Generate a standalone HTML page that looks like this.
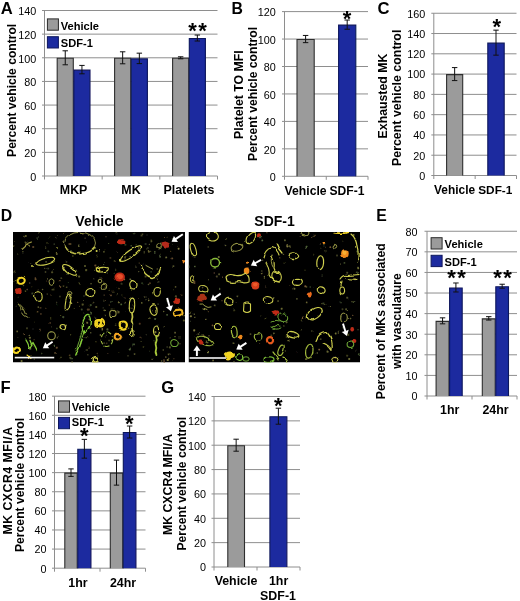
<!DOCTYPE html>
<html lang="en"><head><meta charset="utf-8"><title>Figure</title>
<style>html,body{margin:0;padding:0;background:#fff}svg{display:block}text{font-family:'Liberation Sans', Arial, Helvetica, sans-serif}</style>
</head><body>
<svg width="520" height="601" viewBox="0 0 520 601">
<defs><filter id="bl" x="-5%" y="-5%" width="110%" height="110%"><feTurbulence type="fractalNoise" baseFrequency="0.11" numOctaves="2" seed="7" result="n"/><feDisplacementMap in="SourceGraphic" in2="n" scale="3.2" xChannelSelector="R" yChannelSelector="G" result="d"/><feGaussianBlur in="d" stdDeviation="0.5"/></filter><filter id="bl2" x="-5%" y="-5%" width="110%" height="110%"><feGaussianBlur stdDeviation="0.3"/></filter><filter id="soft" filterUnits="userSpaceOnUse" x="0" y="0" width="520" height="601"><feGaussianBlur stdDeviation="0.4"/></filter><clipPath id="c1"><rect x="13" y="232" width="172" height="130.5"/></clipPath><clipPath id="c2"><rect x="188.5" y="232" width="171.5" height="130.5"/></clipPath></defs>
<rect width="520" height="601" fill="#fff"/>
<g filter="url(#soft)">
<text x="0.8" y="13.8" font-size="16.6" font-weight="bold" text-anchor="start" fill="#000">A</text>
<text x="231.5" y="13.7" font-size="15.8" font-weight="bold" text-anchor="start" fill="#000">B</text>
<text x="377.6" y="14.1" font-size="16.6" font-weight="bold" text-anchor="start" fill="#000">C</text>
<text x="0.8" y="220.8" font-size="15.8" font-weight="bold" text-anchor="start" fill="#000">D</text>
<text x="376.3" y="220.8" font-size="15.8" font-weight="bold" text-anchor="start" fill="#000">E</text>
<text x="0.6" y="392.9" font-size="16.6" font-weight="bold" text-anchor="start" fill="#000">F</text>
<text x="161.2" y="392.5" font-size="16.6" font-weight="bold" text-anchor="start" fill="#000">G</text>
<g id="panelA">
<line x1="42.0" y1="176.0" x2="217.5" y2="176.0" stroke="#8e8e8e" stroke-width="1"/>
<text x="36.3" y="180.9" font-size="10.8" text-anchor="end" fill="#000">0</text>
<line x1="42.0" y1="152.36" x2="217.5" y2="152.36" stroke="#8e8e8e" stroke-width="1"/>
<text x="36.3" y="157.26" font-size="10.8" text-anchor="end" fill="#000">20</text>
<line x1="42.0" y1="128.71" x2="217.5" y2="128.71" stroke="#8e8e8e" stroke-width="1"/>
<text x="36.3" y="133.61" font-size="10.8" text-anchor="end" fill="#000">40</text>
<line x1="42.0" y1="105.07" x2="217.5" y2="105.07" stroke="#8e8e8e" stroke-width="1"/>
<text x="36.3" y="109.97" font-size="10.8" text-anchor="end" fill="#000">60</text>
<line x1="42.0" y1="81.43" x2="217.5" y2="81.43" stroke="#8e8e8e" stroke-width="1"/>
<text x="36.3" y="86.33" font-size="10.8" text-anchor="end" fill="#000">80</text>
<line x1="42.0" y1="57.79" x2="217.5" y2="57.79" stroke="#8e8e8e" stroke-width="1"/>
<text x="36.3" y="62.69" font-size="10.8" text-anchor="end" fill="#000">100</text>
<line x1="42.0" y1="34.14" x2="217.5" y2="34.14" stroke="#8e8e8e" stroke-width="1"/>
<text x="36.3" y="39.04" font-size="10.8" text-anchor="end" fill="#000">120</text>
<line x1="42.0" y1="10.5" x2="217.5" y2="10.5" stroke="#8e8e8e" stroke-width="1"/>
<text x="36.3" y="15.4" font-size="10.8" text-anchor="end" fill="#000">140</text>
<line x1="44.5" y1="10.5" x2="44.5" y2="176" stroke="#8e8e8e" stroke-width="1"/>
<line x1="44.5" y1="176" x2="44.5" y2="179.5" stroke="#8e8e8e" stroke-width="1"/>
<line x1="102.17" y1="176" x2="102.17" y2="179.5" stroke="#8e8e8e" stroke-width="1"/>
<line x1="159.83" y1="176" x2="159.83" y2="179.5" stroke="#8e8e8e" stroke-width="1"/>
<line x1="217.5" y1="176" x2="217.5" y2="179.5" stroke="#8e8e8e" stroke-width="1"/>
<rect x="57.2" y="58.29" width="16.1" height="117.71" fill="#9b9b9b"/>
<path d="M57.2,176 L57.2,58.29 L73.3,58.29 L73.3,176" fill="none" stroke="#2e2e2e" stroke-width="1.1"/>
<rect x="73.9" y="70.11" width="16.1" height="105.89" fill="#1b2b9f"/>
<path d="M73.9,176 L73.9,70.11 L90.0,70.11 L90.0,176" fill="none" stroke="#10185c" stroke-width="1.1"/>
<rect x="114.6" y="58.29" width="16.1" height="117.71" fill="#9b9b9b"/>
<path d="M114.6,176 L114.6,58.29 L130.7,58.29 L130.7,176" fill="none" stroke="#2e2e2e" stroke-width="1.1"/>
<rect x="131.3" y="58.88" width="16.1" height="117.12" fill="#1b2b9f"/>
<path d="M131.3,176 L131.3,58.88 L147.4,58.88 L147.4,176" fill="none" stroke="#10185c" stroke-width="1.1"/>
<rect x="172.6" y="58.29" width="16.1" height="117.71" fill="#9b9b9b"/>
<path d="M172.6,176 L172.6,58.29 L188.7,58.29 L188.7,176" fill="none" stroke="#2e2e2e" stroke-width="1.1"/>
<rect x="189.3" y="38.54" width="16.1" height="137.46" fill="#1b2b9f"/>
<path d="M189.3,176 L189.3,38.54 L205.4,38.54 L205.4,176" fill="none" stroke="#10185c" stroke-width="1.1"/>
<line x1="65.25" y1="50.79" x2="65.25" y2="64.79" stroke="#111" stroke-width="1"/>
<line x1="62.55" y1="50.79" x2="67.95" y2="50.79" stroke="#111" stroke-width="1"/>
<line x1="62.55" y1="64.79" x2="67.95" y2="64.79" stroke="#111" stroke-width="1"/>
<line x1="81.94999999999999" y1="65.41" x2="81.94999999999999" y2="73.81" stroke="#111" stroke-width="1"/>
<line x1="79.24999999999999" y1="65.41" x2="84.64999999999999" y2="65.41" stroke="#111" stroke-width="1"/>
<line x1="79.24999999999999" y1="73.81" x2="84.64999999999999" y2="73.81" stroke="#111" stroke-width="1"/>
<line x1="122.65" y1="51.79" x2="122.65" y2="63.79" stroke="#111" stroke-width="1"/>
<line x1="119.95" y1="51.79" x2="125.35000000000001" y2="51.79" stroke="#111" stroke-width="1"/>
<line x1="119.95" y1="63.79" x2="125.35000000000001" y2="63.79" stroke="#111" stroke-width="1"/>
<line x1="139.35" y1="53.18" x2="139.35" y2="63.58" stroke="#111" stroke-width="1"/>
<line x1="136.65" y1="53.18" x2="142.04999999999998" y2="53.18" stroke="#111" stroke-width="1"/>
<line x1="136.65" y1="63.58" x2="142.04999999999998" y2="63.58" stroke="#111" stroke-width="1"/>
<line x1="180.65" y1="56.79" x2="180.65" y2="58.79" stroke="#111" stroke-width="1"/>
<line x1="177.95000000000002" y1="56.79" x2="183.35" y2="56.79" stroke="#111" stroke-width="1"/>
<line x1="177.95000000000002" y1="58.79" x2="183.35" y2="58.79" stroke="#111" stroke-width="1"/>
<line x1="197.35" y1="35.04" x2="197.35" y2="41.04" stroke="#111" stroke-width="1"/>
<line x1="194.65" y1="35.04" x2="200.04999999999998" y2="35.04" stroke="#111" stroke-width="1"/>
<line x1="194.65" y1="41.04" x2="200.04999999999998" y2="41.04" stroke="#111" stroke-width="1"/>
<rect x="47.4" y="18.9" width="11" height="11.3" fill="#9b9b9b" stroke="#2a2a2a" stroke-width="1"/>
<rect x="47.4" y="36.7" width="11" height="11.3" fill="#1b2b9f" stroke="#10185c" stroke-width="1"/>
<text x="60.8" y="30.1" font-size="11.1" font-weight="bold" text-anchor="start" fill="#000">Vehicle</text>
<text x="60.8" y="46.9" font-size="11.1" font-weight="bold" text-anchor="start" fill="#000">SDF-1</text>
<text x="15.8" y="90.4" font-size="12.1" font-weight="bold" text-anchor="middle" transform="rotate(-90 15.8 90.4)" fill="#000">Percent vehicle control</text>
<text x="73.6" y="194.3" font-size="12.4" font-weight="bold" text-anchor="middle" fill="#000">MKP</text>
<text x="131" y="194.3" font-size="12.4" font-weight="bold" text-anchor="middle" fill="#000">MK</text>
<text x="189" y="194.3" font-size="12.4" font-weight="bold" text-anchor="middle" fill="#000">Platelets</text>
<text x="198.3" y="37.93" font-size="22" font-weight="bold" text-anchor="middle" fill="#000" letter-spacing="1.6">**</text>
</g>
<g id="panelB">
<line x1="282.0" y1="176.3" x2="368" y2="176.3" stroke="#8e8e8e" stroke-width="1"/>
<text x="275.7" y="181.0" font-size="10.8" text-anchor="end" fill="#000">0</text>
<line x1="282.0" y1="148.85" x2="368" y2="148.85" stroke="#8e8e8e" stroke-width="1"/>
<text x="275.7" y="153.55" font-size="10.8" text-anchor="end" fill="#000">20</text>
<line x1="282.0" y1="121.4" x2="368" y2="121.4" stroke="#8e8e8e" stroke-width="1"/>
<text x="275.7" y="126.1" font-size="10.8" text-anchor="end" fill="#000">40</text>
<line x1="282.0" y1="93.95" x2="368" y2="93.95" stroke="#8e8e8e" stroke-width="1"/>
<text x="275.7" y="98.65" font-size="10.8" text-anchor="end" fill="#000">60</text>
<line x1="282.0" y1="66.5" x2="368" y2="66.5" stroke="#8e8e8e" stroke-width="1"/>
<text x="275.7" y="71.2" font-size="10.8" text-anchor="end" fill="#000">80</text>
<line x1="282.0" y1="39.05" x2="368" y2="39.05" stroke="#8e8e8e" stroke-width="1"/>
<text x="275.7" y="43.75" font-size="10.8" text-anchor="end" fill="#000">100</text>
<line x1="282.0" y1="11.6" x2="368" y2="11.6" stroke="#8e8e8e" stroke-width="1"/>
<text x="275.7" y="16.3" font-size="10.8" text-anchor="end" fill="#000">120</text>
<line x1="284.5" y1="11.6" x2="284.5" y2="176.3" stroke="#8e8e8e" stroke-width="1"/>
<line x1="284.5" y1="176.3" x2="284.5" y2="179.8" stroke="#8e8e8e" stroke-width="1"/>
<line x1="326.25" y1="176.3" x2="326.25" y2="179.8" stroke="#8e8e8e" stroke-width="1"/>
<line x1="368.0" y1="176.3" x2="368.0" y2="179.8" stroke="#8e8e8e" stroke-width="1"/>
<rect x="297.0" y="39.55" width="17.2" height="136.75" fill="#9b9b9b"/>
<path d="M297.0,176.3 L297.0,39.55 L314.2,39.55 L314.2,176.3" fill="none" stroke="#2e2e2e" stroke-width="1.1"/>
<rect x="338.6" y="25.14" width="17.2" height="151.16" fill="#1b2b9f"/>
<path d="M338.6,176.3 L338.6,25.14 L355.8,25.14 L355.8,176.3" fill="none" stroke="#10185c" stroke-width="1.1"/>
<line x1="305.6" y1="35.45" x2="305.6" y2="42.65" stroke="#111" stroke-width="1"/>
<line x1="302.90000000000003" y1="35.45" x2="308.3" y2="35.45" stroke="#111" stroke-width="1"/>
<line x1="302.90000000000003" y1="42.65" x2="308.3" y2="42.65" stroke="#111" stroke-width="1"/>
<line x1="347.20000000000005" y1="20.04" x2="347.20000000000005" y2="29.24" stroke="#111" stroke-width="1"/>
<line x1="344.50000000000006" y1="20.04" x2="349.90000000000003" y2="20.04" stroke="#111" stroke-width="1"/>
<line x1="344.50000000000006" y1="29.24" x2="349.90000000000003" y2="29.24" stroke="#111" stroke-width="1"/>
<text x="242.6" y="94.6" font-size="12.3" font-weight="bold" text-anchor="middle" transform="rotate(-90 242.6 94.6)" fill="#000">Platelet TO MFI</text>
<text x="257.3" y="93.9" font-size="12.2" font-weight="bold" text-anchor="middle" transform="rotate(-90 257.3 93.9)" fill="#000">Percent vehicle control</text>
<text x="305.6" y="194.8" font-size="12.2" font-weight="bold" text-anchor="middle" fill="#000">Vehicle</text>
<text x="347.0" y="194.8" font-size="12.1" font-weight="bold" text-anchor="middle" fill="#000">SDF-1</text>
<text x="347" y="25.93" font-size="22" font-weight="bold" text-anchor="middle" fill="#000">*</text>
</g>
<g id="panelC">
<line x1="431.3" y1="175.5" x2="516.5" y2="175.5" stroke="#8e8e8e" stroke-width="1"/>
<text x="425.3" y="179.9" font-size="10.8" text-anchor="end" fill="#000">0</text>
<line x1="431.3" y1="155.22" x2="516.5" y2="155.22" stroke="#8e8e8e" stroke-width="1"/>
<text x="425.3" y="159.62" font-size="10.8" text-anchor="end" fill="#000">20</text>
<line x1="431.3" y1="134.94" x2="516.5" y2="134.94" stroke="#8e8e8e" stroke-width="1"/>
<text x="425.3" y="139.34" font-size="10.8" text-anchor="end" fill="#000">40</text>
<line x1="431.3" y1="114.66" x2="516.5" y2="114.66" stroke="#8e8e8e" stroke-width="1"/>
<text x="425.3" y="119.06" font-size="10.8" text-anchor="end" fill="#000">60</text>
<line x1="431.3" y1="94.38" x2="516.5" y2="94.38" stroke="#8e8e8e" stroke-width="1"/>
<text x="425.3" y="98.78" font-size="10.8" text-anchor="end" fill="#000">80</text>
<line x1="431.3" y1="74.09" x2="516.5" y2="74.09" stroke="#8e8e8e" stroke-width="1"/>
<text x="425.3" y="78.49" font-size="10.8" text-anchor="end" fill="#000">100</text>
<line x1="431.3" y1="53.81" x2="516.5" y2="53.81" stroke="#8e8e8e" stroke-width="1"/>
<text x="425.3" y="58.21" font-size="10.8" text-anchor="end" fill="#000">120</text>
<line x1="431.3" y1="33.53" x2="516.5" y2="33.53" stroke="#8e8e8e" stroke-width="1"/>
<text x="425.3" y="37.93" font-size="10.8" text-anchor="end" fill="#000">140</text>
<line x1="431.3" y1="13.25" x2="516.5" y2="13.25" stroke="#8e8e8e" stroke-width="1"/>
<text x="425.3" y="17.65" font-size="10.8" text-anchor="end" fill="#000">160</text>
<line x1="433.8" y1="13.25" x2="433.8" y2="175.5" stroke="#8e8e8e" stroke-width="1"/>
<line x1="433.8" y1="175.5" x2="433.8" y2="179.0" stroke="#8e8e8e" stroke-width="1"/>
<line x1="475.15" y1="175.5" x2="475.15" y2="179.0" stroke="#8e8e8e" stroke-width="1"/>
<line x1="516.5" y1="175.5" x2="516.5" y2="179.0" stroke="#8e8e8e" stroke-width="1"/>
<rect x="446.6" y="74.59" width="16.1" height="100.91" fill="#9b9b9b"/>
<path d="M446.6,175.5 L446.6,74.59 L462.7,74.59 L462.7,175.5" fill="none" stroke="#2e2e2e" stroke-width="1.1"/>
<rect x="487.8" y="43.16" width="16.4" height="132.34" fill="#1b2b9f"/>
<path d="M487.8,175.5 L487.8,43.16 L504.2,43.16 L504.2,175.5" fill="none" stroke="#10185c" stroke-width="1.1"/>
<line x1="454.65" y1="67.59" x2="454.65" y2="80.59" stroke="#111" stroke-width="1"/>
<line x1="451.95" y1="67.59" x2="457.34999999999997" y2="67.59" stroke="#111" stroke-width="1"/>
<line x1="451.95" y1="80.59" x2="457.34999999999997" y2="80.59" stroke="#111" stroke-width="1"/>
<line x1="496.0" y1="30.16" x2="496.0" y2="55.16" stroke="#111" stroke-width="1"/>
<line x1="493.3" y1="30.16" x2="498.7" y2="30.16" stroke="#111" stroke-width="1"/>
<line x1="493.3" y1="55.16" x2="498.7" y2="55.16" stroke="#111" stroke-width="1"/>
<text x="387.0" y="96.0" font-size="12.3" font-weight="bold" text-anchor="middle" transform="rotate(-90 387.0 96.0)" fill="#000">Exhausted MK</text>
<text x="400.6" y="97.8" font-size="12.4" font-weight="bold" text-anchor="middle" transform="rotate(-90 400.6 97.8)" fill="#000">Percent vehicle control</text>
<text x="454.6" y="193.5" font-size="11.9" font-weight="bold" text-anchor="middle" fill="#000">Vehicle</text>
<text x="495.3" y="193.5" font-size="11.8" font-weight="bold" text-anchor="middle" fill="#000">SDF-1</text>
<text x="496.75" y="33.93" font-size="22" font-weight="bold" text-anchor="middle" fill="#000">*</text>
</g>
<g id="panelD">
<text x="99.5" y="226.2" font-size="14" font-weight="bold" text-anchor="middle" fill="#000">Vehicle</text>
<text x="274.6" y="226.4" font-size="14" font-weight="bold" text-anchor="middle" fill="#000">SDF-1</text>
<g clip-path="url(#c1)">
<rect x="13" y="232" width="172" height="130.5" fill="#050505"/>
<g filter="url(#bl)">
<circle cx="90.8" cy="305.1" r="1.05" fill="#566a3c" opacity="0.7"/>
<circle cx="160.1" cy="256.8" r="0.97" fill="#566a3c" opacity="0.8"/>
<circle cx="149.4" cy="244.3" r="0.65" fill="#7c7c3a" opacity="0.75"/>
<circle cx="166.1" cy="314.8" r="0.84" fill="#566a3c" opacity="0.98"/>
<circle cx="125.5" cy="312.3" r="0.55" fill="#7c7c3a" opacity="0.91"/>
<circle cx="23.9" cy="236.7" r="1.02" fill="#8a8440" opacity="0.47"/>
<circle cx="92.8" cy="289.5" r="1.0" fill="#8a8440" opacity="0.58"/>
<circle cx="63.6" cy="232.6" r="0.51" fill="#7a5a34" opacity="0.67"/>
<circle cx="107.8" cy="353.6" r="0.5" fill="#7a5a34" opacity="0.62"/>
<circle cx="52.5" cy="269.7" r="0.5" fill="#7c7c3a" opacity="0.67"/>
<circle cx="158.6" cy="282.4" r="1.07" fill="#7c7c3a" opacity="0.57"/>
<circle cx="172.5" cy="238.8" r="0.69" fill="#566a3c" opacity="0.68"/>
<circle cx="110.4" cy="257.9" r="0.89" fill="#7a5a34" opacity="0.5"/>
<circle cx="70.2" cy="357.8" r="0.94" fill="#7c7c3a" opacity="0.52"/>
<circle cx="134.6" cy="233.4" r="0.75" fill="#566a3c" opacity="0.55"/>
<circle cx="109.2" cy="290.4" r="0.57" fill="#6c6c36" opacity="0.68"/>
<circle cx="79.0" cy="283.5" r="1.09" fill="#7c7c3a" opacity="0.6"/>
<circle cx="180.0" cy="336.8" r="0.65" fill="#7c7c3a" opacity="0.57"/>
<circle cx="80.8" cy="343.5" r="0.87" fill="#7c7c3a" opacity="0.47"/>
<circle cx="38.2" cy="289.6" r="0.46" fill="#8a8440" opacity="0.63"/>
<circle cx="64.0" cy="241.6" r="0.51" fill="#8a8440" opacity="0.8"/>
<circle cx="15.7" cy="280.1" r="0.85" fill="#6c6c36" opacity="0.98"/>
<circle cx="96.2" cy="307.0" r="1.01" fill="#6c6c36" opacity="0.79"/>
<circle cx="66.5" cy="261.8" r="0.85" fill="#6c6c36" opacity="0.54"/>
<circle cx="121.2" cy="304.3" r="0.9" fill="#566a3c" opacity="0.94"/>
<circle cx="116.8" cy="287.0" r="0.52" fill="#7c7c3a" opacity="0.73"/>
<circle cx="56.9" cy="328.5" r="0.7" fill="#566a3c" opacity="0.9"/>
<circle cx="115.6" cy="270.3" r="0.56" fill="#7c7c3a" opacity="0.52"/>
<circle cx="95.4" cy="317.3" r="0.85" fill="#7c7c3a" opacity="0.6"/>
<circle cx="170.8" cy="258.6" r="0.46" fill="#7a5a34" opacity="0.68"/>
<circle cx="55.8" cy="238.1" r="0.63" fill="#8a8440" opacity="0.76"/>
<circle cx="35.6" cy="279.3" r="1.03" fill="#7a5a34" opacity="0.81"/>
<circle cx="131.9" cy="308.3" r="0.54" fill="#7c7c3a" opacity="0.96"/>
<circle cx="94.7" cy="278.7" r="0.65" fill="#7c7c3a" opacity="0.46"/>
<circle cx="122.4" cy="294.9" r="0.92" fill="#7a5a34" opacity="0.53"/>
<circle cx="25.5" cy="291.1" r="0.69" fill="#7c7c3a" opacity="0.95"/>
<circle cx="139.8" cy="323.8" r="0.97" fill="#7a5a34" opacity="0.64"/>
<circle cx="130.8" cy="349.6" r="1.02" fill="#566a3c" opacity="0.97"/>
<circle cx="18.2" cy="297.2" r="0.46" fill="#566a3c" opacity="0.66"/>
<circle cx="15.1" cy="241.4" r="0.51" fill="#7c7c3a" opacity="1.0"/>
<circle cx="164.3" cy="327.0" r="0.7" fill="#8a8440" opacity="0.7"/>
<circle cx="92.6" cy="302.6" r="0.79" fill="#8a8440" opacity="0.47"/>
<circle cx="116.4" cy="294.8" r="0.6" fill="#7c7c3a" opacity="0.72"/>
<circle cx="118.7" cy="352.1" r="0.62" fill="#7c7c3a" opacity="0.65"/>
<circle cx="37.6" cy="311.8" r="0.79" fill="#7a5a34" opacity="0.81"/>
<circle cx="89.0" cy="348.4" r="0.66" fill="#7a5a34" opacity="0.56"/>
<circle cx="87.1" cy="337.2" r="1.04" fill="#6c6c36" opacity="0.66"/>
<circle cx="113.3" cy="273.3" r="0.54" fill="#566a3c" opacity="0.64"/>
<circle cx="167.1" cy="237.3" r="0.49" fill="#7a5a34" opacity="0.9"/>
<circle cx="32.4" cy="293.5" r="1.05" fill="#566a3c" opacity="0.66"/>
<circle cx="102.4" cy="319.7" r="0.92" fill="#8a8440" opacity="0.7"/>
<circle cx="25.8" cy="236.1" r="1.02" fill="#7c7c3a" opacity="0.82"/>
<circle cx="61.3" cy="278.2" r="0.87" fill="#8a8440" opacity="0.46"/>
<circle cx="36.4" cy="291.4" r="0.47" fill="#7a5a34" opacity="0.58"/>
<circle cx="37.2" cy="238.1" r="0.86" fill="#566a3c" opacity="0.51"/>
<circle cx="105.1" cy="315.5" r="0.69" fill="#7c7c3a" opacity="0.83"/>
<circle cx="47.3" cy="294.0" r="0.57" fill="#7c7c3a" opacity="0.87"/>
<circle cx="105.0" cy="236.7" r="0.6" fill="#7a5a34" opacity="0.75"/>
<circle cx="175.9" cy="297.3" r="1.1" fill="#6c6c36" opacity="0.67"/>
<circle cx="149.2" cy="350.3" r="0.51" fill="#566a3c" opacity="0.52"/>
<circle cx="91.0" cy="313.6" r="1.04" fill="#566a3c" opacity="0.75"/>
<circle cx="125.3" cy="297.6" r="0.98" fill="#7a5a34" opacity="0.71"/>
<circle cx="125.0" cy="258.7" r="0.92" fill="#7c7c3a" opacity="0.57"/>
<circle cx="167.8" cy="360.0" r="1.09" fill="#8a8440" opacity="0.99"/>
<circle cx="173.4" cy="266.2" r="0.92" fill="#7c7c3a" opacity="0.64"/>
<circle cx="27.2" cy="289.5" r="0.81" fill="#7a5a34" opacity="0.72"/>
<circle cx="17.9" cy="337.6" r="0.49" fill="#7c7c3a" opacity="0.55"/>
<circle cx="70.6" cy="334.8" r="0.54" fill="#6c6c36" opacity="1.0"/>
<circle cx="167.9" cy="299.6" r="0.89" fill="#566a3c" opacity="0.97"/>
<circle cx="97.7" cy="355.9" r="0.51" fill="#6c6c36" opacity="0.69"/>
<circle cx="109.1" cy="340.5" r="0.81" fill="#6c6c36" opacity="0.74"/>
<circle cx="158.1" cy="305.1" r="0.65" fill="#566a3c" opacity="0.98"/>
<circle cx="162.7" cy="311.5" r="0.65" fill="#6c6c36" opacity="0.98"/>
<circle cx="103.2" cy="306.8" r="0.58" fill="#8a8440" opacity="0.51"/>
<circle cx="13.8" cy="281.2" r="0.8" fill="#7c7c3a" opacity="0.73"/>
<circle cx="81.9" cy="336.5" r="0.82" fill="#566a3c" opacity="0.5"/>
<circle cx="41.7" cy="353.5" r="0.75" fill="#566a3c" opacity="0.6"/>
<circle cx="94.4" cy="248.6" r="0.73" fill="#566a3c" opacity="0.74"/>
<circle cx="31.7" cy="286.7" r="0.47" fill="#7a5a34" opacity="0.52"/>
<circle cx="147.0" cy="235.0" r="0.58" fill="#6c6c36" opacity="0.46"/>
<circle cx="61.9" cy="326.4" r="0.61" fill="#566a3c" opacity="0.51"/>
<circle cx="138.7" cy="248.0" r="0.78" fill="#7a5a34" opacity="0.84"/>
<circle cx="133.6" cy="346.7" r="0.47" fill="#566a3c" opacity="0.9"/>
<circle cx="118.9" cy="302.2" r="1.01" fill="#8a8440" opacity="0.8"/>
<circle cx="104.1" cy="343.1" r="0.85" fill="#6c6c36" opacity="0.58"/>
<circle cx="140.4" cy="337.8" r="1.04" fill="#7a5a34" opacity="0.78"/>
<circle cx="166.2" cy="257.4" r="0.96" fill="#6c6c36" opacity="0.94"/>
<circle cx="36.0" cy="263.2" r="0.92" fill="#7a5a34" opacity="0.66"/>
<circle cx="87.8" cy="354.8" r="0.8" fill="#6c6c36" opacity="0.56"/>
<circle cx="121.0" cy="336.3" r="0.51" fill="#8a8440" opacity="0.83"/>
<circle cx="169.8" cy="358.4" r="0.53" fill="#8a8440" opacity="0.8"/>
<circle cx="72.1" cy="362.3" r="0.99" fill="#7c7c3a" opacity="0.72"/>
<circle cx="17.2" cy="331.4" r="0.85" fill="#8a8440" opacity="0.71"/>
<circle cx="45.6" cy="247.0" r="0.56" fill="#6c6c36" opacity="0.99"/>
<circle cx="172.4" cy="244.4" r="0.49" fill="#566a3c" opacity="0.49"/>
<circle cx="29.6" cy="283.0" r="0.73" fill="#7a5a34" opacity="0.69"/>
<circle cx="116.4" cy="233.7" r="0.91" fill="#6c6c36" opacity="0.55"/>
<circle cx="91.1" cy="328.5" r="0.71" fill="#6c6c36" opacity="0.78"/>
<circle cx="29.3" cy="335.4" r="0.66" fill="#7c7c3a" opacity="0.89"/>
<circle cx="134.2" cy="344.3" r="0.86" fill="#566a3c" opacity="0.76"/>
<circle cx="45.8" cy="308.3" r="0.67" fill="#7a5a34" opacity="0.6"/>
<circle cx="33.0" cy="329.0" r="0.55" fill="#566a3c" opacity="0.52"/>
<circle cx="69.7" cy="302.3" r="0.69" fill="#566a3c" opacity="0.87"/>
<circle cx="82.8" cy="326.3" r="0.5" fill="#7a5a34" opacity="0.62"/>
<circle cx="30.3" cy="347.9" r="1.09" fill="#8a8440" opacity="0.48"/>
<circle cx="60.0" cy="357.5" r="0.64" fill="#6c6c36" opacity="0.81"/>
<circle cx="111.0" cy="301.6" r="0.7" fill="#566a3c" opacity="0.8"/>
<circle cx="133.6" cy="331.4" r="1.09" fill="#7c7c3a" opacity="0.51"/>
<circle cx="31.6" cy="262.9" r="0.74" fill="#8a8440" opacity="0.48"/>
<circle cx="46.6" cy="281.0" r="0.51" fill="#7a5a34" opacity="0.6"/>
<circle cx="71.6" cy="302.5" r="0.72" fill="#8a8440" opacity="0.76"/>
<circle cx="184.2" cy="315.3" r="0.98" fill="#7c7c3a" opacity="0.75"/>
<circle cx="128.0" cy="356.7" r="0.7" fill="#6c6c36" opacity="0.66"/>
<circle cx="179.9" cy="343.7" r="0.8" fill="#8a8440" opacity="0.48"/>
<circle cx="175.6" cy="286.9" r="0.79" fill="#8a8440" opacity="0.62"/>
<circle cx="104.2" cy="295.1" r="0.63" fill="#7a5a34" opacity="0.81"/>
<circle cx="141.6" cy="235.5" r="0.95" fill="#8a8440" opacity="0.47"/>
<circle cx="39.9" cy="330.5" r="0.7" fill="#7a5a34" opacity="0.86"/>
<circle cx="21.6" cy="361.0" r="1.06" fill="#7c7c3a" opacity="0.89"/>
<circle cx="51.5" cy="325.8" r="0.61" fill="#6c6c36" opacity="0.47"/>
<circle cx="29.9" cy="337.7" r="1.04" fill="#6c6c36" opacity="0.99"/>
<circle cx="153.5" cy="310.8" r="0.52" fill="#8a8440" opacity="0.68"/>
<circle cx="33.3" cy="344.4" r="0.68" fill="#6c6c36" opacity="0.52"/>
<circle cx="89.2" cy="319.2" r="0.75" fill="#7a5a34" opacity="0.8"/>
<circle cx="130.3" cy="279.5" r="0.93" fill="#6c6c36" opacity="0.97"/>
<circle cx="139.3" cy="263.1" r="0.52" fill="#7a5a34" opacity="0.88"/>
<circle cx="120.5" cy="278.9" r="0.63" fill="#8a8440" opacity="0.83"/>
<circle cx="45.7" cy="268.4" r="0.61" fill="#6c6c36" opacity="0.73"/>
<circle cx="125.3" cy="257.6" r="0.89" fill="#7c7c3a" opacity="0.46"/>
<circle cx="57.6" cy="235.5" r="0.47" fill="#6c6c36" opacity="0.75"/>
<circle cx="25.5" cy="243.3" r="0.89" fill="#8a8440" opacity="0.58"/>
<circle cx="181.8" cy="295.2" r="0.68" fill="#7a5a34" opacity="0.64"/>
<circle cx="141.1" cy="341.4" r="0.5" fill="#7c7c3a" opacity="0.7"/>
<circle cx="154.4" cy="341.4" r="0.95" fill="#566a3c" opacity="0.68"/>
<circle cx="57.4" cy="337.7" r="0.69" fill="#8a8440" opacity="0.63"/>
<circle cx="107.4" cy="329.4" r="1.05" fill="#566a3c" opacity="0.81"/>
<circle cx="112.9" cy="292.3" r="0.66" fill="#8a8440" opacity="0.5"/>
<circle cx="110.0" cy="295.3" r="0.9" fill="#7a5a34" opacity="0.9"/>
<circle cx="14.6" cy="272.5" r="1.04" fill="#8a8440" opacity="0.49"/>
<circle cx="65.3" cy="326.6" r="0.9" fill="#7a5a34" opacity="0.93"/>
<circle cx="50.6" cy="317.8" r="0.66" fill="#7c7c3a" opacity="0.63"/>
<circle cx="88.8" cy="309.6" r="1.04" fill="#7a5a34" opacity="0.69"/>
<circle cx="151.1" cy="271.8" r="0.66" fill="#566a3c" opacity="0.98"/>
<circle cx="138.5" cy="299.4" r="0.5" fill="#7a5a34" opacity="0.46"/>
<circle cx="129.4" cy="308.3" r="0.97" fill="#8a8440" opacity="0.65"/>
<circle cx="80.1" cy="252.2" r="0.83" fill="#6c6c36" opacity="0.55"/>
<circle cx="143.5" cy="347.0" r="0.63" fill="#7c7c3a" opacity="0.57"/>
<circle cx="22.9" cy="252.7" r="0.64" fill="#7c7c3a" opacity="0.81"/>
<circle cx="151.3" cy="240.4" r="0.81" fill="#8a8440" opacity="0.5"/>
<circle cx="27.0" cy="328.2" r="1.03" fill="#7c7c3a" opacity="0.46"/>
<circle cx="125.4" cy="244.7" r="0.98" fill="#566a3c" opacity="0.58"/>
<circle cx="50.9" cy="331.9" r="0.79" fill="#566a3c" opacity="0.67"/>
<circle cx="71.1" cy="358.4" r="0.89" fill="#566a3c" opacity="0.72"/>
<circle cx="151.4" cy="241.5" r="0.85" fill="#7c7c3a" opacity="0.68"/>
<circle cx="155.1" cy="319.0" r="1.0" fill="#566a3c" opacity="0.91"/>
<circle cx="165.8" cy="357.0" r="0.87" fill="#8a8440" opacity="0.65"/>
<circle cx="14.7" cy="246.3" r="1.05" fill="#6c6c36" opacity="0.59"/>
<circle cx="40.9" cy="314.9" r="0.89" fill="#7a5a34" opacity="0.56"/>
<circle cx="86.1" cy="270.1" r="1.08" fill="#7c7c3a" opacity="0.71"/>
<circle cx="138.7" cy="271.6" r="0.55" fill="#6c6c36" opacity="0.95"/>
<circle cx="142.5" cy="234.2" r="0.76" fill="#7c7c3a" opacity="0.62"/>
<circle cx="47.0" cy="278.9" r="0.83" fill="#8a8440" opacity="0.84"/>
<circle cx="115.3" cy="261.2" r="0.57" fill="#7a5a34" opacity="0.67"/>
<circle cx="169.6" cy="354.3" r="0.86" fill="#8a8440" opacity="0.71"/>
<circle cx="57.8" cy="347.8" r="1.04" fill="#7a5a34" opacity="0.81"/>
<circle cx="145.7" cy="244.1" r="1.01" fill="#566a3c" opacity="0.48"/>
<circle cx="176.0" cy="336.6" r="0.7" fill="#8a8440" opacity="0.89"/>
<circle cx="146.2" cy="334.8" r="0.49" fill="#6c6c36" opacity="0.94"/>
<circle cx="163.3" cy="350.1" r="0.74" fill="#6c6c36" opacity="0.84"/>
<circle cx="117.2" cy="252.5" r="0.55" fill="#7a5a34" opacity="0.53"/>
<circle cx="169.2" cy="337.7" r="0.54" fill="#8a8440" opacity="0.6"/>
<circle cx="104.9" cy="251.7" r="0.95" fill="#7c7c3a" opacity="0.56"/>
<circle cx="170.6" cy="251.4" r="0.53" fill="#7a5a34" opacity="0.6"/>
<circle cx="136.2" cy="244.7" r="0.76" fill="#566a3c" opacity="0.5"/>
<circle cx="141.8" cy="302.9" r="0.78" fill="#7c7c3a" opacity="0.88"/>
<circle cx="84.7" cy="351.6" r="0.51" fill="#566a3c" opacity="0.56"/>
<circle cx="106.5" cy="300.6" r="0.55" fill="#7a5a34" opacity="0.62"/>
<circle cx="82.7" cy="304.6" r="1.1" fill="#7c7c3a" opacity="0.65"/>
<circle cx="131.2" cy="245.8" r="0.71" fill="#566a3c" opacity="0.86"/>
<circle cx="147.9" cy="247.9" r="0.74" fill="#566a3c" opacity="0.84"/>
<circle cx="94.7" cy="270.3" r="0.52" fill="#7c7c3a" opacity="0.92"/>
<circle cx="158.3" cy="325.9" r="1.04" fill="#6c6c36" opacity="0.61"/>
<circle cx="77.7" cy="302.4" r="0.64" fill="#7a5a34" opacity="0.87"/>
<circle cx="108.6" cy="243.3" r="0.57" fill="#566a3c" opacity="0.85"/>
<circle cx="69.7" cy="355.3" r="0.82" fill="#7a5a34" opacity="0.7"/>
<circle cx="78.8" cy="245.3" r="0.85" fill="#6c6c36" opacity="0.82"/>
<circle cx="134.8" cy="255.5" r="0.71" fill="#566a3c" opacity="0.78"/>
<circle cx="28.5" cy="261.6" r="0.55" fill="#7c7c3a" opacity="0.69"/>
<circle cx="145.6" cy="276.6" r="0.99" fill="#8a8440" opacity="0.53"/>
<circle cx="48.3" cy="251.3" r="0.9" fill="#566a3c" opacity="0.63"/>
<circle cx="83.9" cy="234.0" r="0.71" fill="#7a5a34" opacity="0.99"/>
<circle cx="148.8" cy="318.2" r="0.85" fill="#7c7c3a" opacity="0.59"/>
<circle cx="45.5" cy="272.0" r="0.74" fill="#8a8440" opacity="0.66"/>
<circle cx="100.6" cy="334.9" r="0.99" fill="#8a8440" opacity="0.84"/>
<circle cx="56.7" cy="302.3" r="0.64" fill="#6c6c36" opacity="0.64"/>
<circle cx="99.1" cy="250.5" r="0.91" fill="#8a8440" opacity="1.0"/>
<circle cx="134.6" cy="354.1" r="0.82" fill="#7c7c3a" opacity="0.79"/>
<circle cx="47.0" cy="242.9" r="0.61" fill="#8a8440" opacity="0.68"/>
<circle cx="70.4" cy="244.0" r="1.02" fill="#7a5a34" opacity="0.7"/>
<circle cx="34.3" cy="359.1" r="0.54" fill="#8a8440" opacity="0.75"/>
<circle cx="109.4" cy="305.1" r="0.62" fill="#7a5a34" opacity="0.78"/>
<circle cx="34.1" cy="339.6" r="0.64" fill="#7a5a34" opacity="0.58"/>
<circle cx="111.7" cy="340.4" r="0.57" fill="#8a8440" opacity="0.9"/>
<circle cx="91.1" cy="284.6" r="0.96" fill="#6c6c36" opacity="0.62"/>
<circle cx="128.5" cy="328.3" r="0.7" fill="#8a8440" opacity="0.8"/>
<circle cx="144.3" cy="252.7" r="0.72" fill="#7c7c3a" opacity="0.53"/>
<circle cx="79.5" cy="306.3" r="0.56" fill="#8a8440" opacity="0.52"/>
<circle cx="55.0" cy="353.6" r="0.48" fill="#7c7c3a" opacity="0.85"/>
<circle cx="148.5" cy="284.6" r="0.77" fill="#7c7c3a" opacity="0.71"/>
<circle cx="83.8" cy="313.4" r="0.9" fill="#566a3c" opacity="0.86"/>
<circle cx="96.6" cy="361.8" r="0.99" fill="#566a3c" opacity="0.9"/>
<circle cx="33.2" cy="247.0" r="1.06" fill="#7a5a34" opacity="0.74"/>
<circle cx="87.3" cy="350.0" r="0.66" fill="#7c7c3a" opacity="0.61"/>
<circle cx="119.0" cy="288.5" r="0.69" fill="#7a5a34" opacity="0.86"/>
<circle cx="65.4" cy="309.4" r="0.5" fill="#7c7c3a" opacity="0.91"/>
<circle cx="54.7" cy="345.9" r="1.08" fill="#566a3c" opacity="0.83"/>
<circle cx="103.5" cy="263.2" r="0.65" fill="#566a3c" opacity="0.97"/>
<circle cx="164.3" cy="362.4" r="0.93" fill="#7a5a34" opacity="0.93"/>
<circle cx="85.5" cy="337.1" r="0.59" fill="#566a3c" opacity="0.76"/>
<circle cx="168.4" cy="244.9" r="0.97" fill="#7c7c3a" opacity="0.94"/>
<circle cx="112.1" cy="291.1" r="0.64" fill="#7a5a34" opacity="0.46"/>
<circle cx="42.6" cy="289.5" r="0.74" fill="#8a8440" opacity="0.67"/>
<circle cx="74.3" cy="308.4" r="0.48" fill="#7c7c3a" opacity="0.7"/>
<circle cx="67.0" cy="274.3" r="0.54" fill="#566a3c" opacity="0.93"/>
<circle cx="47.9" cy="344.1" r="0.9" fill="#7c7c3a" opacity="0.56"/>
<circle cx="157.1" cy="278.2" r="0.76" fill="#6c6c36" opacity="0.8"/>
<circle cx="133.0" cy="305.1" r="0.8" fill="#6c6c36" opacity="0.56"/>
<circle cx="164.4" cy="238.5" r="0.52" fill="#7a5a34" opacity="0.98"/>
<circle cx="60.1" cy="286.9" r="1.02" fill="#7a5a34" opacity="0.83"/>
<circle cx="174.3" cy="290.1" r="0.5" fill="#6c6c36" opacity="0.92"/>
<circle cx="33.8" cy="322.2" r="0.62" fill="#6c6c36" opacity="0.73"/>
<circle cx="63.8" cy="267.7" r="0.97" fill="#8a8440" opacity="0.94"/>
<circle cx="114.5" cy="261.9" r="0.65" fill="#6c6c36" opacity="0.82"/>
<circle cx="60.6" cy="315.5" r="0.51" fill="#7c7c3a" opacity="0.69"/>
<circle cx="103.9" cy="301.3" r="0.48" fill="#8a8440" opacity="0.77"/>
<circle cx="105.4" cy="287.3" r="0.82" fill="#6c6c36" opacity="0.61"/>
<circle cx="143.0" cy="264.1" r="0.63" fill="#8a8440" opacity="0.47"/>
<circle cx="148.9" cy="251.7" r="1.03" fill="#8a8440" opacity="0.7"/>
<circle cx="142.1" cy="282.2" r="1.05" fill="#566a3c" opacity="0.48"/>
<circle cx="24.0" cy="333.4" r="1.04" fill="#7a5a34" opacity="0.81"/>
<circle cx="147.7" cy="299.4" r="0.78" fill="#8a8440" opacity="0.86"/>
<circle cx="104.4" cy="309.5" r="0.95" fill="#7c7c3a" opacity="0.78"/>
<circle cx="53.5" cy="289.5" r="0.95" fill="#6c6c36" opacity="0.59"/>
<circle cx="106.6" cy="343.3" r="0.84" fill="#7a5a34" opacity="0.47"/>
<circle cx="115.7" cy="325.3" r="0.82" fill="#6c6c36" opacity="0.63"/>
<circle cx="117.6" cy="311.4" r="0.97" fill="#8a8440" opacity="0.69"/>
<circle cx="58.2" cy="336.2" r="0.5" fill="#6c6c36" opacity="0.76"/>
<circle cx="106.4" cy="335.3" r="0.6" fill="#6c6c36" opacity="0.48"/>
<circle cx="86.2" cy="322.8" r="0.98" fill="#8a8440" opacity="0.88"/>
<circle cx="144.6" cy="297.0" r="0.87" fill="#8a8440" opacity="0.54"/>
<circle cx="56.8" cy="252.9" r="0.9" fill="#8a8440" opacity="0.88"/>
<circle cx="23.5" cy="285.6" r="0.69" fill="#6c6c36" opacity="0.84"/>
<circle cx="177.6" cy="248.8" r="0.94" fill="#8a8440" opacity="0.99"/>
<circle cx="37.9" cy="291.4" r="0.93" fill="#7c7c3a" opacity="0.45"/>
<circle cx="83.5" cy="300.6" r="0.51" fill="#8a8440" opacity="0.61"/>
<circle cx="86.0" cy="242.0" r="0.47" fill="#8a8440" opacity="0.58"/>
<circle cx="56.6" cy="304.0" r="0.61" fill="#566a3c" opacity="0.5"/>
<circle cx="52.1" cy="272.3" r="1.07" fill="#8a8440" opacity="0.57"/>
<circle cx="40.6" cy="308.4" r="1.1" fill="#7a5a34" opacity="0.76"/>
<circle cx="169.9" cy="347.4" r="1.05" fill="#6c6c36" opacity="0.7"/>
<circle cx="80.6" cy="342.0" r="0.7" fill="#7c7c3a" opacity="0.57"/>
<circle cx="72.8" cy="256.0" r="0.81" fill="#6c6c36" opacity="0.71"/>
<circle cx="81.8" cy="309.5" r="0.94" fill="#566a3c" opacity="0.7"/>
<circle cx="183.9" cy="320.6" r="1.01" fill="#6c6c36" opacity="0.75"/>
<circle cx="85.1" cy="238.2" r="0.63" fill="#7a5a34" opacity="0.79"/>
<circle cx="102.3" cy="328.8" r="0.78" fill="#8a8440" opacity="0.96"/>
<circle cx="136.0" cy="267.1" r="0.68" fill="#6c6c36" opacity="0.85"/>
<circle cx="146.6" cy="249.9" r="0.61" fill="#7c7c3a" opacity="0.46"/>
<circle cx="68.4" cy="282.2" r="0.5" fill="#566a3c" opacity="0.63"/>
<circle cx="145.6" cy="299.8" r="0.49" fill="#566a3c" opacity="0.78"/>
<circle cx="97.0" cy="256.5" r="0.78" fill="#6c6c36" opacity="0.47"/>
<circle cx="66.7" cy="287.3" r="0.8" fill="#6c6c36" opacity="0.73"/>
<circle cx="107.3" cy="273.0" r="0.74" fill="#566a3c" opacity="0.53"/>
<circle cx="48.2" cy="268.6" r="0.91" fill="#566a3c" opacity="0.53"/>
<circle cx="101.9" cy="278.4" r="0.52" fill="#7a5a34" opacity="0.64"/>
<circle cx="50.1" cy="237.3" r="0.47" fill="#566a3c" opacity="0.76"/>
<circle cx="152.1" cy="359.3" r="0.64" fill="#7c7c3a" opacity="0.96"/>
<circle cx="50.2" cy="321.9" r="0.88" fill="#7a5a34" opacity="0.58"/>
<circle cx="121.8" cy="243.7" r="0.73" fill="#566a3c" opacity="0.72"/>
<circle cx="97.3" cy="353.5" r="0.63" fill="#7a5a34" opacity="0.57"/>
<circle cx="172.2" cy="258.4" r="0.95" fill="#7a5a34" opacity="0.82"/>
<circle cx="54.2" cy="244.1" r="0.67" fill="#566a3c" opacity="0.89"/>
<circle cx="95.3" cy="265.5" r="1.0" fill="#7a5a34" opacity="0.84"/>
<circle cx="17.0" cy="283.1" r="0.69" fill="#7c7c3a" opacity="0.95"/>
<circle cx="59.8" cy="281.2" r="1.0" fill="#7a5a34" opacity="0.71"/>
<circle cx="69.0" cy="265.1" r="0.47" fill="#7a5a34" opacity="0.63"/>
<circle cx="77.2" cy="270.8" r="0.98" fill="#6c6c36" opacity="0.8"/>
<circle cx="79.1" cy="276.6" r="1.03" fill="#7c7c3a" opacity="0.77"/>
<circle cx="175.1" cy="332.7" r="0.86" fill="#8a8440" opacity="0.75"/>
<circle cx="118.4" cy="240.3" r="0.49" fill="#566a3c" opacity="0.93"/>
<circle cx="78.7" cy="350.7" r="0.47" fill="#6c6c36" opacity="0.83"/>
<circle cx="59.9" cy="296.6" r="0.76" fill="#7c7c3a" opacity="0.53"/>
<circle cx="46.1" cy="261.8" r="0.89" fill="#6c6c36" opacity="0.74"/>
<circle cx="172.4" cy="359.9" r="0.45" fill="#8a8440" opacity="0.72"/>
<circle cx="124.8" cy="303.5" r="0.86" fill="#8a8440" opacity="0.94"/>
<circle cx="131.9" cy="336.0" r="0.62" fill="#7c7c3a" opacity="0.94"/>
<circle cx="66.9" cy="325.4" r="0.9" fill="#6c6c36" opacity="0.98"/>
<circle cx="154.8" cy="252.8" r="0.85" fill="#566a3c" opacity="0.89"/>
<circle cx="63.5" cy="286.1" r="0.69" fill="#8a8440" opacity="0.72"/>
<circle cx="124.2" cy="279.3" r="0.91" fill="#8a8440" opacity="0.86"/>
<circle cx="163.9" cy="361.1" r="0.98" fill="#7a5a34" opacity="0.51"/>
<circle cx="90.7" cy="332.8" r="0.76" fill="#6c6c36" opacity="0.79"/>
<circle cx="84.0" cy="294.9" r="0.67" fill="#566a3c" opacity="0.73"/>
<circle cx="150.0" cy="283.2" r="0.92" fill="#7a5a34" opacity="0.65"/>
<circle cx="130.4" cy="256.0" r="1.01" fill="#6c6c36" opacity="0.91"/>
<circle cx="155.5" cy="306.1" r="0.72" fill="#6c6c36" opacity="0.79"/>
<circle cx="155.9" cy="336.6" r="0.53" fill="#566a3c" opacity="0.79"/>
<circle cx="63.2" cy="317.1" r="1.08" fill="#566a3c" opacity="0.77"/>
<circle cx="174.9" cy="358.6" r="0.54" fill="#7a5a34" opacity="0.68"/>
<circle cx="121.6" cy="283.8" r="1.06" fill="#6c6c36" opacity="0.48"/>
<circle cx="135.7" cy="247.4" r="0.48" fill="#7a5a34" opacity="0.65"/>
<circle cx="105.6" cy="336.6" r="0.71" fill="#7c7c3a" opacity="0.91"/>
<circle cx="160.2" cy="254.3" r="0.49" fill="#566a3c" opacity="0.89"/>
<circle cx="157.3" cy="269.0" r="0.7" fill="#8a8440" opacity="0.67"/>
<circle cx="37.4" cy="307.2" r="0.89" fill="#6c6c36" opacity="0.75"/>
<circle cx="150.6" cy="251.2" r="0.56" fill="#7c7c3a" opacity="0.76"/>
<circle cx="167.2" cy="346.9" r="0.73" fill="#6c6c36" opacity="0.63"/>
<circle cx="16.3" cy="305.9" r="0.54" fill="#566a3c" opacity="0.6"/>
<circle cx="52.1" cy="294.9" r="0.69" fill="#7a5a34" opacity="0.76"/>
<circle cx="39.1" cy="232.9" r="0.94" fill="#7c7c3a" opacity="0.45"/>
<circle cx="70.8" cy="250.2" r="0.96" fill="#566a3c" opacity="0.72"/>
<circle cx="84.3" cy="337.3" r="0.71" fill="#7c7c3a" opacity="0.57"/>
<circle cx="119.1" cy="339.9" r="0.61" fill="#6c6c36" opacity="0.97"/>
<circle cx="161.7" cy="361.8" r="0.74" fill="#7c7c3a" opacity="0.55"/>
<circle cx="17.6" cy="254.0" r="0.53" fill="#7c7c3a" opacity="0.6"/>
<circle cx="17.1" cy="304.5" r="0.49" fill="#566a3c" opacity="0.46"/>
<circle cx="49.1" cy="357.2" r="0.46" fill="#8a8440" opacity="0.6"/>
<circle cx="55.1" cy="352.7" r="0.77" fill="#7a5a34" opacity="0.89"/>
<circle cx="155.4" cy="332.2" r="1.09" fill="#7c7c3a" opacity="0.96"/>
<circle cx="95.9" cy="341.6" r="0.72" fill="#8a8440" opacity="0.46"/>
<ellipse cx="80" cy="243" rx="15.5" ry="10.8" transform="rotate(0 80 243)" fill="none" stroke="#9c9c46" stroke-width="0.95" opacity="0.9"/>
<path d="M65.5,247 Q68,254 80,254 Q90,253 94,247" fill="none" stroke="#d2d24e" stroke-width="1.14" stroke-linecap="round" stroke-linejoin="round" opacity="0.9"/>
<path d="M21,249.5 L27,244 L32.5,242 M27,244 L30.5,246" fill="none" stroke="#a09a40" stroke-width="1.04" stroke-linecap="round" stroke-linejoin="round" opacity="1"/>
<ellipse cx="45.8" cy="261.2" rx="10.2" ry="3.3" transform="rotate(-14 45.8 261.2)" fill="none" stroke="#d2d24e" stroke-width="1.04" opacity="1"/>
<ellipse cx="69.7" cy="270.4" rx="8.6" ry="3.4" transform="rotate(37 69.7 270.4)" fill="none" stroke="#d2d24e" stroke-width="1.14" opacity="1"/>
<ellipse cx="51.5" cy="281.6" rx="2.4" ry="3.8" transform="rotate(0 51.5 281.6)" fill="none" stroke="#9c9c46" stroke-width="0.95" opacity="1"/>
<ellipse cx="21.2" cy="280.8" rx="3.6" ry="3.0" transform="rotate(-15 21.2 280.8)" fill="none" stroke="#f2d424" stroke-width="2.0" opacity="1"/>
<ellipse cx="18.3" cy="291.0" rx="3.3" ry="3.0" transform="rotate(0 18.3 291.0)" fill="#c02c18" opacity="1"/>
<ellipse cx="90.4" cy="292.2" rx="4.6" ry="3.6" transform="rotate(-20 90.4 292.2)" fill="none" stroke="#d2d24e" stroke-width="1.14" opacity="1"/>
<ellipse cx="69.7" cy="294.8" rx="2.4" ry="3.4" transform="rotate(0 69.7 294.8)" fill="none" stroke="#9c9c46" stroke-width="0.95" opacity="1"/>
<ellipse cx="38.4" cy="296.6" rx="3.6" ry="4.8" transform="rotate(-15 38.4 296.6)" fill="none" stroke="#d2d24e" stroke-width="1.04" opacity="1"/>
<path d="M96,268 Q99,267 100,270 Q99,272 97,271" fill="none" stroke="#f2d424" stroke-width="1.04" stroke-linecap="round" stroke-linejoin="round" opacity="1"/>
<ellipse cx="95.6" cy="252" rx="1.0" ry="1.0" transform="rotate(0 95.6 252)" fill="#d2d24e" opacity="1"/>
<ellipse cx="33" cy="266" rx="0.9" ry="0.9" transform="rotate(0 33 266)" fill="#d2d24e" opacity="1"/>
<ellipse cx="57" cy="247" rx="0.8" ry="0.8" transform="rotate(0 57 247)" fill="#d2d24e" opacity="1"/>
<ellipse cx="85" cy="266" rx="0.8" ry="0.8" transform="rotate(0 85 266)" fill="#9c9c46" opacity="1"/>
<ellipse cx="68" cy="302.5" rx="2.4" ry="8.6" transform="rotate(10 68 302.5)" fill="none" stroke="#d2d24e" stroke-width="1.04" opacity="1"/>
<path d="M17.5,303 Q21.5,307 22,312 Q23.5,316 28,317.5 M20,304.5 Q25.5,309 26.5,314" fill="none" stroke="#9c9c46" stroke-width="0.95" stroke-linecap="round" stroke-linejoin="round" opacity="1"/>
<ellipse cx="62.8" cy="327.2" rx="2.8" ry="2.8" transform="rotate(0 62.8 327.2)" fill="none" stroke="#d2d24e" stroke-width="1.04" opacity="1"/>
<ellipse cx="86.3" cy="324" rx="3.8" ry="8.8" transform="rotate(12 86.3 324)" fill="none" stroke="#86d038" stroke-width="1.23" opacity="1"/>
<path d="M84.5,331 Q82,340 79.5,347 Q77.5,352 75.8,356" fill="none" stroke="#86d038" stroke-width="1.42" stroke-linecap="round" stroke-linejoin="round" opacity="1"/>
<path d="M82,332 Q79,342 76,351" fill="none" stroke="#6ea834" stroke-width="0.95" stroke-linecap="round" stroke-linejoin="round" opacity="1"/>
<ellipse cx="98.2" cy="322.9" rx="3.0" ry="3.0" transform="rotate(0 98.2 322.9)" fill="none" stroke="#f2d424" stroke-width="2.0" opacity="1"/>
<ellipse cx="51.5" cy="335.8" rx="3.8" ry="4.0" transform="rotate(0 51.5 335.8)" fill="none" stroke="#9c9c46" stroke-width="1.04" opacity="1"/>
<path d="M26,340 Q28,343 29.5,348 L33,342.5 Q35,346 37.5,351 M30,340.5 L31.5,344" fill="none" stroke="#86d038" stroke-width="1.33" stroke-linecap="round" stroke-linejoin="round" opacity="1"/>
<ellipse cx="16.2" cy="350.3" rx="2.8" ry="2.8" transform="rotate(0 16.2 350.3)" fill="none" stroke="#f2d424" stroke-width="2.0" opacity="1"/>
<path d="M27,355 L31,358.5 M31,355 L27.5,358.5" fill="none" stroke="#f2d424" stroke-width="1.04" stroke-linecap="round" stroke-linejoin="round" opacity="1"/>
<ellipse cx="94.8" cy="359.4" rx="3.2" ry="3.0" transform="rotate(0 94.8 359.4)" fill="none" stroke="#d2d24e" stroke-width="1.04" opacity="1"/>
<ellipse cx="121.5" cy="241.7" rx="4.2" ry="2.4" transform="rotate(-10 121.5 241.7)" fill="#c02c18" opacity="1"/>
<ellipse cx="131" cy="253.6" rx="12.6" ry="3.4" transform="rotate(-35 131 253.6)" fill="none" stroke="#d2d24e" stroke-width="1.14" opacity="1"/>
<ellipse cx="165.8" cy="244.6" rx="4.4" ry="2.8" transform="rotate(20 165.8 244.6)" fill="#b42a1a" opacity="1"/>
<ellipse cx="159" cy="246.3" rx="2.4" ry="2.6" transform="rotate(0 159 246.3)" fill="none" stroke="#9c9c46" stroke-width="0.95" opacity="1"/>
<ellipse cx="102.3" cy="269.1" rx="6" ry="2.8" transform="rotate(-5 102.3 269.1)" fill="none" stroke="#d2d24e" stroke-width="1.14" opacity="1"/>
<ellipse cx="119.7" cy="277" rx="5.2" ry="4.6" transform="rotate(0 119.7 277)" fill="#c02c18" opacity="1"/>
<ellipse cx="119.7" cy="276.6" rx="3.2" ry="2.6" transform="rotate(0 119.7 276.6)" fill="#e8502a" opacity="1"/>
<path d="M141,264.5 Q143.5,275.5 152,277.6 Q158.5,276 160.6,268" fill="none" stroke="#d2d24e" stroke-width="1.14" stroke-linecap="round" stroke-linejoin="round" opacity="1"/>
<path d="M146,265.5 L152.5,269" fill="none" stroke="#9c9c46" stroke-width="0.95" stroke-linecap="round" stroke-linejoin="round" opacity="1"/>
<ellipse cx="132.4" cy="284.8" rx="3.6" ry="4.2" transform="rotate(-10 132.4 284.8)" fill="none" stroke="#d2d24e" stroke-width="1.14" opacity="1"/>
<ellipse cx="157.1" cy="291.8" rx="3.2" ry="4.4" transform="rotate(0 157.1 291.8)" fill="none" stroke="#d2d24e" stroke-width="1.04" opacity="1"/>
<ellipse cx="104" cy="286.8" rx="2.8" ry="2.6" transform="rotate(0 104 286.8)" fill="none" stroke="#9c9c46" stroke-width="0.95" opacity="1"/>
<ellipse cx="100" cy="281" rx="1.8" ry="1.8" transform="rotate(0 100 281)" fill="none" stroke="#9c9c46" stroke-width="0.95" opacity="1"/>
<ellipse cx="184" cy="261.8" rx="1.4" ry="1.8" transform="rotate(0 184 261.8)" fill="#f08a1e" opacity="1"/>
<ellipse cx="100.5" cy="323.2" rx="3.6" ry="3.3" transform="rotate(0 100.5 323.2)" fill="none" stroke="#f2d424" stroke-width="2.0" opacity="1"/>
<ellipse cx="123.3" cy="325.1" rx="3.6" ry="3.6" transform="rotate(0 123.3 325.1)" fill="none" stroke="#f2d424" stroke-width="2.2" opacity="1"/>
<ellipse cx="117.3" cy="336.6" rx="2.6" ry="2.8" transform="rotate(0 117.3 336.6)" fill="none" stroke="#f0a424" stroke-width="2.0" opacity="1"/>
<ellipse cx="112.9" cy="313.4" rx="3.2" ry="3.2" transform="rotate(0 112.9 313.4)" fill="none" stroke="#9c9c46" stroke-width="1.04" opacity="1"/>
<ellipse cx="132" cy="305.5" rx="2.7" ry="7.4" transform="rotate(3 132 305.5)" fill="none" stroke="#d2d24e" stroke-width="1.04" opacity="1"/>
<path d="M132,313 Q133.2,317 131.6,321 Q133,325 132,328 L132.4,331" fill="none" stroke="#c0c04a" stroke-width="1.7" stroke-linecap="round" stroke-linejoin="round" opacity="1"/>
<ellipse cx="132.3" cy="333.6" rx="1.9" ry="2.8" transform="rotate(0 132.3 333.6)" fill="none" stroke="#d2d24e" stroke-width="1.04" opacity="1"/>
<ellipse cx="153.5" cy="310.1" rx="3.4" ry="5.4" transform="rotate(-15 153.5 310.1)" fill="none" stroke="#d2d24e" stroke-width="1.14" opacity="1"/>
<ellipse cx="177.2" cy="301.3" rx="2.8" ry="2.8" transform="rotate(0 177.2 301.3)" fill="#c02c18" opacity="1"/>
<ellipse cx="178.2" cy="312.8" rx="4.4" ry="2.9" transform="rotate(-20 178.2 312.8)" fill="none" stroke="#f2b824" stroke-width="2.2" opacity="1"/>
<ellipse cx="156.5" cy="331" rx="3.0" ry="5.0" transform="rotate(0 156.5 331)" fill="none" stroke="#d2d24e" stroke-width="1.14" opacity="1"/>
<path d="M156.2,336 Q157.6,340 155.6,344 Q157,348 155.6,352 L156.4,356" fill="none" stroke="#a8c83a" stroke-width="1.8" stroke-linecap="round" stroke-linejoin="round" opacity="1"/>
<ellipse cx="106.9" cy="339.3" rx="5.8" ry="7.2" transform="rotate(0 106.9 339.3)" fill="none" stroke="#9cb83c" stroke-width="1.14" opacity="1" stroke-dasharray="5 2.5"/>
<ellipse cx="174.5" cy="343" rx="3.8" ry="3.6" transform="rotate(0 174.5 343)" fill="none" stroke="#6ea834" stroke-width="1.04" opacity="1"/>
<ellipse cx="95.9" cy="359.6" rx="2.6" ry="2.6" transform="rotate(0 95.9 359.6)" fill="none" stroke="#d2d24e" stroke-width="1.04" opacity="1"/>
</g>
<g filter="url(#bl2)">
<polygon points="42.9,348.2 49.22,348.34 47.76,346.13 53.12,342.59 52.08,341.01 46.72,344.54 45.26,342.33" fill="#fff"/>
<rect x="14.8" y="356.8" width="39.400000000000006" height="1.6" fill="#f4f4f4"/>
<polygon points="171.6,241.8 177.92,241.9 176.45,239.7 183.33,235.09 182.27,233.51 175.39,238.12 173.92,235.92" fill="#fff"/>
<polygon points="170.9,311.2 172.92,305.21 170.37,305.94 168.01,297.74 166.19,298.26 168.55,306.47 166.0,307.2" fill="#fff"/>
</g></g>
<g clip-path="url(#c2)">
<rect x="188.5" y="232" width="171.5" height="130.5" fill="#050505"/>
<g filter="url(#bl)">
<circle cx="347.1" cy="355.8" r="1.03" fill="#7c7c3a" opacity="0.46"/>
<circle cx="241.1" cy="281.5" r="0.68" fill="#6c6c36" opacity="0.6"/>
<circle cx="190.9" cy="312.9" r="1.04" fill="#7c7c3a" opacity="0.5"/>
<circle cx="310.3" cy="287.0" r="0.78" fill="#566a3c" opacity="0.65"/>
<circle cx="198.4" cy="334.2" r="0.83" fill="#6c6c36" opacity="0.79"/>
<circle cx="355.0" cy="279.3" r="0.94" fill="#7a5a34" opacity="0.98"/>
<circle cx="236.7" cy="359.2" r="0.82" fill="#566a3c" opacity="0.55"/>
<circle cx="271.3" cy="335.3" r="0.89" fill="#6c6c36" opacity="0.55"/>
<circle cx="219.1" cy="274.2" r="0.98" fill="#6c6c36" opacity="0.77"/>
<circle cx="202.6" cy="287.6" r="0.82" fill="#8a8440" opacity="0.6"/>
<circle cx="289.7" cy="246.2" r="1.04" fill="#8a8440" opacity="0.62"/>
<circle cx="321.9" cy="303.6" r="0.62" fill="#7c7c3a" opacity="0.79"/>
<circle cx="209.0" cy="335.8" r="0.77" fill="#7a5a34" opacity="0.75"/>
<circle cx="346.1" cy="309.3" r="1.06" fill="#6c6c36" opacity="0.7"/>
<circle cx="194.3" cy="314.3" r="0.71" fill="#6c6c36" opacity="0.9"/>
<circle cx="306.4" cy="359.1" r="0.97" fill="#7c7c3a" opacity="0.75"/>
<circle cx="358.0" cy="329.7" r="0.67" fill="#566a3c" opacity="0.72"/>
<circle cx="194.8" cy="266.5" r="0.81" fill="#566a3c" opacity="0.97"/>
<circle cx="225.5" cy="245.5" r="0.79" fill="#6c6c36" opacity="0.83"/>
<circle cx="284.2" cy="263.1" r="0.52" fill="#6c6c36" opacity="0.95"/>
<circle cx="264.8" cy="276.7" r="1.03" fill="#6c6c36" opacity="0.94"/>
<circle cx="306.4" cy="285.8" r="0.9" fill="#6c6c36" opacity="0.75"/>
<circle cx="261.4" cy="271.0" r="1.01" fill="#8a8440" opacity="0.75"/>
<circle cx="330.3" cy="246.2" r="0.86" fill="#7a5a34" opacity="0.98"/>
<circle cx="313.5" cy="288.2" r="0.56" fill="#7c7c3a" opacity="0.64"/>
<circle cx="306.6" cy="246.8" r="1.03" fill="#566a3c" opacity="0.89"/>
<circle cx="358.0" cy="267.5" r="0.67" fill="#7c7c3a" opacity="0.88"/>
<circle cx="212.8" cy="345.2" r="0.58" fill="#7c7c3a" opacity="0.55"/>
<circle cx="265.6" cy="287.1" r="0.5" fill="#7a5a34" opacity="0.71"/>
<circle cx="306.7" cy="302.4" r="0.81" fill="#8a8440" opacity="0.74"/>
<circle cx="234.0" cy="361.7" r="0.6" fill="#7c7c3a" opacity="0.92"/>
<circle cx="273.9" cy="333.4" r="0.89" fill="#8a8440" opacity="0.68"/>
<circle cx="305.3" cy="285.2" r="0.97" fill="#7a5a34" opacity="0.98"/>
<circle cx="247.0" cy="282.6" r="0.72" fill="#566a3c" opacity="0.87"/>
<circle cx="340.0" cy="302.3" r="0.9" fill="#566a3c" opacity="0.57"/>
<circle cx="233.8" cy="343.2" r="0.78" fill="#7c7c3a" opacity="0.79"/>
<circle cx="358.2" cy="268.2" r="0.95" fill="#7c7c3a" opacity="0.92"/>
<circle cx="233.0" cy="343.0" r="0.61" fill="#8a8440" opacity="0.8"/>
<circle cx="195.8" cy="337.3" r="0.63" fill="#7a5a34" opacity="0.76"/>
<circle cx="295.2" cy="333.8" r="0.57" fill="#8a8440" opacity="0.67"/>
<circle cx="305.0" cy="270.2" r="0.5" fill="#8a8440" opacity="0.54"/>
<circle cx="355.9" cy="351.0" r="0.57" fill="#7c7c3a" opacity="0.52"/>
<circle cx="305.6" cy="353.7" r="0.64" fill="#7a5a34" opacity="0.76"/>
<circle cx="320.7" cy="339.2" r="0.84" fill="#8a8440" opacity="0.51"/>
<circle cx="193.5" cy="277.7" r="0.55" fill="#6c6c36" opacity="0.56"/>
<circle cx="261.7" cy="273.3" r="0.85" fill="#8a8440" opacity="0.77"/>
<circle cx="349.5" cy="318.6" r="0.8" fill="#6c6c36" opacity="0.86"/>
<circle cx="347.2" cy="272.7" r="1.03" fill="#6c6c36" opacity="0.65"/>
<circle cx="356.9" cy="272.5" r="1.05" fill="#566a3c" opacity="0.67"/>
<circle cx="312.7" cy="331.0" r="0.8" fill="#6c6c36" opacity="0.62"/>
<circle cx="261.0" cy="237.3" r="0.93" fill="#566a3c" opacity="0.9"/>
<circle cx="289.6" cy="286.1" r="0.61" fill="#7a5a34" opacity="0.47"/>
<circle cx="239.3" cy="338.8" r="0.71" fill="#7a5a34" opacity="0.77"/>
<circle cx="354.4" cy="302.0" r="0.85" fill="#566a3c" opacity="0.9"/>
<circle cx="219.7" cy="289.4" r="0.57" fill="#566a3c" opacity="0.99"/>
<circle cx="266.8" cy="232.4" r="0.86" fill="#7a5a34" opacity="0.48"/>
<circle cx="194.4" cy="283.0" r="1.08" fill="#7a5a34" opacity="0.85"/>
<circle cx="213.1" cy="360.4" r="0.94" fill="#8a8440" opacity="0.71"/>
<circle cx="317.3" cy="353.1" r="0.73" fill="#6c6c36" opacity="0.99"/>
<circle cx="325.5" cy="247.3" r="0.46" fill="#8a8440" opacity="0.78"/>
<circle cx="279.7" cy="257.8" r="0.68" fill="#7a5a34" opacity="0.6"/>
<circle cx="237.3" cy="296.4" r="0.8" fill="#8a8440" opacity="0.61"/>
<circle cx="353.6" cy="234.9" r="0.96" fill="#8a8440" opacity="0.88"/>
<circle cx="284.9" cy="240.3" r="0.96" fill="#6c6c36" opacity="0.82"/>
<circle cx="207.8" cy="352.2" r="1.08" fill="#7c7c3a" opacity="0.98"/>
<circle cx="288.4" cy="340.2" r="1.08" fill="#7c7c3a" opacity="0.85"/>
<circle cx="352.7" cy="314.5" r="0.78" fill="#7a5a34" opacity="0.75"/>
<circle cx="260.8" cy="314.9" r="0.45" fill="#6c6c36" opacity="0.96"/>
<circle cx="301.7" cy="320.4" r="0.88" fill="#6c6c36" opacity="0.55"/>
<circle cx="225.8" cy="240.0" r="0.88" fill="#6c6c36" opacity="0.59"/>
<circle cx="347.4" cy="310.3" r="0.7" fill="#7c7c3a" opacity="0.76"/>
<circle cx="286.6" cy="336.1" r="0.86" fill="#6c6c36" opacity="0.53"/>
<circle cx="190.9" cy="316.3" r="1.06" fill="#8a8440" opacity="0.95"/>
<circle cx="259.6" cy="343.4" r="0.5" fill="#7a5a34" opacity="0.61"/>
<circle cx="311.7" cy="236.5" r="0.56" fill="#7a5a34" opacity="0.89"/>
<circle cx="324.9" cy="250.7" r="0.54" fill="#8a8440" opacity="0.82"/>
<circle cx="207.5" cy="341.4" r="0.94" fill="#6c6c36" opacity="0.9"/>
<circle cx="278.1" cy="302.0" r="0.84" fill="#6c6c36" opacity="0.91"/>
<circle cx="234.2" cy="310.3" r="0.99" fill="#6c6c36" opacity="0.51"/>
<circle cx="262.3" cy="240.4" r="0.89" fill="#566a3c" opacity="0.99"/>
<circle cx="320.3" cy="244.9" r="0.61" fill="#7a5a34" opacity="0.8"/>
<circle cx="261.4" cy="260.3" r="0.81" fill="#6c6c36" opacity="0.63"/>
<circle cx="285.2" cy="359.0" r="0.51" fill="#6c6c36" opacity="0.85"/>
<circle cx="214.7" cy="305.3" r="0.86" fill="#7c7c3a" opacity="0.7"/>
<circle cx="197.6" cy="353.1" r="0.62" fill="#6c6c36" opacity="0.71"/>
<circle cx="322.1" cy="276.1" r="0.51" fill="#566a3c" opacity="0.95"/>
<circle cx="323.9" cy="245.6" r="0.8" fill="#566a3c" opacity="0.66"/>
<circle cx="314.2" cy="254.7" r="1.02" fill="#7c7c3a" opacity="0.46"/>
<circle cx="335.7" cy="333.5" r="0.9" fill="#7c7c3a" opacity="0.92"/>
<circle cx="303.1" cy="317.4" r="1.0" fill="#7a5a34" opacity="0.97"/>
<circle cx="297.2" cy="352.7" r="0.54" fill="#7a5a34" opacity="0.52"/>
<circle cx="235.6" cy="302.9" r="0.84" fill="#8a8440" opacity="0.76"/>
<circle cx="296.9" cy="298.8" r="0.89" fill="#6c6c36" opacity="0.78"/>
<circle cx="257.5" cy="276.2" r="0.55" fill="#7c7c3a" opacity="0.94"/>
<circle cx="323.4" cy="303.6" r="1.02" fill="#566a3c" opacity="0.64"/>
<circle cx="347.3" cy="333.9" r="0.88" fill="#7c7c3a" opacity="0.6"/>
<circle cx="208.4" cy="311.6" r="0.6" fill="#7a5a34" opacity="0.68"/>
<circle cx="340.5" cy="264.1" r="0.51" fill="#8a8440" opacity="0.83"/>
<circle cx="232.4" cy="352.9" r="1.08" fill="#6c6c36" opacity="0.99"/>
<circle cx="357.1" cy="251.3" r="0.92" fill="#566a3c" opacity="0.64"/>
<circle cx="281.7" cy="308.7" r="1.0" fill="#7c7c3a" opacity="0.86"/>
<circle cx="342.5" cy="309.2" r="0.93" fill="#7c7c3a" opacity="0.48"/>
<circle cx="208.3" cy="247.1" r="0.73" fill="#6c6c36" opacity="0.65"/>
<circle cx="205.8" cy="319.4" r="0.67" fill="#8a8440" opacity="0.93"/>
<circle cx="327.6" cy="351.7" r="1.1" fill="#6c6c36" opacity="0.92"/>
<circle cx="319.2" cy="349.6" r="0.94" fill="#7a5a34" opacity="1.0"/>
<circle cx="194.8" cy="317.4" r="0.56" fill="#7c7c3a" opacity="0.9"/>
<circle cx="281.3" cy="315.6" r="0.48" fill="#566a3c" opacity="0.46"/>
<circle cx="250.5" cy="334.1" r="0.87" fill="#6c6c36" opacity="0.75"/>
<circle cx="212.6" cy="325.3" r="0.91" fill="#7a5a34" opacity="0.93"/>
<circle cx="287.4" cy="246.3" r="1.09" fill="#8a8440" opacity="0.94"/>
<circle cx="189.0" cy="267.2" r="0.77" fill="#566a3c" opacity="0.54"/>
<circle cx="293.5" cy="288.7" r="0.96" fill="#7c7c3a" opacity="0.84"/>
<circle cx="349.2" cy="359.1" r="1.01" fill="#7c7c3a" opacity="0.98"/>
<circle cx="337.0" cy="255.5" r="0.99" fill="#6c6c36" opacity="0.57"/>
<circle cx="189.7" cy="321.3" r="0.78" fill="#566a3c" opacity="0.5"/>
<circle cx="218.8" cy="257.1" r="1.04" fill="#7c7c3a" opacity="0.89"/>
<circle cx="342.8" cy="241.3" r="0.46" fill="#6c6c36" opacity="0.65"/>
<circle cx="315.0" cy="235.4" r="0.72" fill="#7a5a34" opacity="0.77"/>
<circle cx="338.8" cy="331.9" r="1.03" fill="#6c6c36" opacity="0.6"/>
<circle cx="320.9" cy="249.3" r="0.51" fill="#6c6c36" opacity="0.51"/>
<circle cx="359.9" cy="355.3" r="1.0" fill="#566a3c" opacity="0.74"/>
<circle cx="273.7" cy="298.3" r="0.98" fill="#7c7c3a" opacity="0.93"/>
<circle cx="283.5" cy="254.3" r="0.66" fill="#8a8440" opacity="0.71"/>
<circle cx="329.4" cy="306.5" r="0.61" fill="#8a8440" opacity="0.77"/>
<circle cx="194.2" cy="330.4" r="1.07" fill="#8a8440" opacity="0.92"/>
<circle cx="347.2" cy="297.8" r="1.06" fill="#6c6c36" opacity="0.72"/>
<circle cx="203.5" cy="335.7" r="1.0" fill="#7a5a34" opacity="0.8"/>
<circle cx="302.3" cy="329.7" r="0.64" fill="#6c6c36" opacity="0.68"/>
<circle cx="300.2" cy="236.5" r="0.5" fill="#7a5a34" opacity="0.67"/>
<circle cx="286.6" cy="322.2" r="1.04" fill="#6c6c36" opacity="0.77"/>
<circle cx="342.5" cy="252.8" r="0.58" fill="#7c7c3a" opacity="0.75"/>
<circle cx="265.4" cy="318.7" r="0.76" fill="#7c7c3a" opacity="0.66"/>
<circle cx="204.8" cy="337.1" r="1.04" fill="#7c7c3a" opacity="0.64"/>
<circle cx="352.9" cy="301.6" r="0.7" fill="#8a8440" opacity="0.59"/>
<circle cx="216.8" cy="276.4" r="1.01" fill="#8a8440" opacity="0.54"/>
<circle cx="343.2" cy="328.5" r="1.07" fill="#566a3c" opacity="0.54"/>
<circle cx="313.3" cy="235.2" r="0.57" fill="#8a8440" opacity="0.69"/>
<circle cx="286.4" cy="350.9" r="0.55" fill="#7c7c3a" opacity="0.77"/>
<circle cx="283.9" cy="325.9" r="0.57" fill="#8a8440" opacity="0.9"/>
<circle cx="265.7" cy="302.7" r="0.5" fill="#566a3c" opacity="0.64"/>
<circle cx="324.9" cy="304.8" r="0.72" fill="#7c7c3a" opacity="0.87"/>
<circle cx="335.3" cy="357.5" r="0.89" fill="#7a5a34" opacity="0.93"/>
<circle cx="221.9" cy="278.2" r="0.89" fill="#7a5a34" opacity="0.94"/>
<circle cx="295.0" cy="258.2" r="0.56" fill="#7c7c3a" opacity="0.98"/>
<circle cx="197.2" cy="357.8" r="0.5" fill="#7c7c3a" opacity="0.76"/>
<circle cx="222.0" cy="300.7" r="0.67" fill="#7a5a34" opacity="0.78"/>
<circle cx="208.5" cy="279.7" r="0.53" fill="#6c6c36" opacity="0.97"/>
<circle cx="214.3" cy="272.0" r="0.63" fill="#7a5a34" opacity="0.84"/>
<circle cx="344.4" cy="262.9" r="0.83" fill="#566a3c" opacity="0.74"/>
<ellipse cx="212.4" cy="236.2" rx="6" ry="4.8" transform="rotate(10 212.4 236.2)" fill="none" stroke="#d2d24e" stroke-width="1.04" opacity="1"/>
<ellipse cx="250.8" cy="238" rx="3.8" ry="6.4" transform="rotate(35 250.8 238)" fill="none" stroke="#d2d24e" stroke-width="1.04" opacity="1"/>
<ellipse cx="259" cy="235.3" rx="2.0" ry="2.0" transform="rotate(0 259 235.3)" fill="#c02c18" opacity="1"/>
<ellipse cx="193.4" cy="250" rx="2.6" ry="7.0" transform="rotate(-15 193.4 250)" fill="none" stroke="#d2d24e" stroke-width="1.04" opacity="1"/>
<ellipse cx="237" cy="247.2" rx="6" ry="3.8" transform="rotate(-15 237 247.2)" fill="none" stroke="#9c9c46" stroke-width="0.95" opacity="1"/>
<ellipse cx="215.1" cy="262.7" rx="4.4" ry="4.2" transform="rotate(0 215.1 262.7)" fill="none" stroke="#88ba38" stroke-width="1.33" opacity="1"/>
<ellipse cx="247.1" cy="270.9" rx="3.3" ry="3.3" transform="rotate(0 247.1 270.9)" fill="#f08a1e" opacity="1"/>
<ellipse cx="247.1" cy="262.7" rx="1.1" ry="1.1" transform="rotate(0 247.1 262.7)" fill="#f08a1e" opacity="1"/>
<path d="M226,277 Q228,273.5 234,275 Q240,277 246,273 Q250,277 249,282 Q244,284 238,281.5 Q231,283.5 227,281 Z" fill="none" stroke="#d2d24e" stroke-width="1.14" stroke-linecap="round" stroke-linejoin="round" opacity="1"/>
<ellipse cx="255.3" cy="285.5" rx="4.0" ry="4.0" transform="rotate(0 255.3 285.5)" fill="#d63c1c" opacity="1"/>
<ellipse cx="255.3" cy="285.3" rx="2.2" ry="2.2" transform="rotate(0 255.3 285.3)" fill="#ee5a2a" opacity="1"/>
<path d="M264,258 Q266,250 272,247.5 Q277,249 279,255 M266,262 Q270,268 269,275 Q272,281 279,282 M272,256 Q275,262 274,268 Q276,274 279,272" fill="none" stroke="#d2d24e" stroke-width="1.04" stroke-linecap="round" stroke-linejoin="round" opacity="1"/>
<ellipse cx="192.3" cy="279.2" rx="1.9" ry="3.4" transform="rotate(0 192.3 279.2)" fill="none" stroke="#d2d24e" stroke-width="0.95" opacity="1"/>
<ellipse cx="203.3" cy="289.2" rx="4.8" ry="3.6" transform="rotate(20 203.3 289.2)" fill="none" stroke="#d2d24e" stroke-width="1.04" opacity="1"/>
<ellipse cx="201.6" cy="298.2" rx="5.2" ry="3.4" transform="rotate(0 201.6 298.2)" fill="#aa3018" opacity="1"/>
<path d="M200,304 Q203,303 205,306 Q208,308.5 211,307 M203,308 L207,309.5" fill="none" stroke="#9c9c46" stroke-width="0.95" stroke-linecap="round" stroke-linejoin="round" opacity="1"/>
<ellipse cx="228.8" cy="301.3" rx="4.1" ry="4.1" transform="rotate(0 228.8 301.3)" fill="none" stroke="#d2d24e" stroke-width="1.14" opacity="1"/>
<path d="M244,303 Q247,301 250.5,303 L250.5,311 Q247,314 243.5,311 Z" fill="none" stroke="#d2d24e" stroke-width="1.04" stroke-linecap="round" stroke-linejoin="round" opacity="1"/>
<ellipse cx="268.1" cy="300" rx="4.8" ry="3.3" transform="rotate(10 268.1 300)" fill="none" stroke="#d2d24e" stroke-width="1.04" opacity="1"/>
<ellipse cx="275.4" cy="312.8" rx="3.0" ry="2.6" transform="rotate(0 275.4 312.8)" fill="#c02c18" opacity="1"/>
<ellipse cx="217.5" cy="326.5" rx="3.1" ry="3.1" transform="rotate(0 217.5 326.5)" fill="none" stroke="#d2d24e" stroke-width="1.04" opacity="1"/>
<ellipse cx="234.3" cy="332" rx="2.8" ry="5.8" transform="rotate(-5 234.3 332)" fill="none" stroke="#a8c03c" stroke-width="1.14" opacity="1"/>
<ellipse cx="240.7" cy="336.6" rx="1.8" ry="1.8" transform="rotate(0 240.7 336.6)" fill="#f08a1e" opacity="1"/>
<ellipse cx="258.1" cy="336.6" rx="3.8" ry="3.8" transform="rotate(0 258.1 336.6)" fill="none" stroke="#9cb83c" stroke-width="1.14" opacity="1"/>
<ellipse cx="270" cy="340.2" rx="3.1" ry="3.1" transform="rotate(0 270 340.2)" fill="none" stroke="#e85a1c" stroke-width="2.1" opacity="1"/>
<ellipse cx="205.2" cy="341" rx="8.2" ry="3.8" transform="rotate(22 205.2 341)" fill="none" stroke="#a0b83c" stroke-width="1.04" opacity="1"/>
<ellipse cx="201.6" cy="342" rx="2.8" ry="2.6" transform="rotate(0 201.6 342)" fill="#c02c18" opacity="1"/>
<ellipse cx="229.8" cy="354.9" rx="5.2" ry="3.4" transform="rotate(0 229.8 354.9)" fill="#f2d424" opacity="1"/>
<ellipse cx="228" cy="358" rx="3" ry="2.4" transform="rotate(0 228 358)" fill="#f2d424" opacity="1"/>
<ellipse cx="239.8" cy="357.6" rx="3.0" ry="2.8" transform="rotate(0 239.8 357.6)" fill="none" stroke="#86d038" stroke-width="1.04" opacity="1"/>
<ellipse cx="246" cy="359" rx="3.2" ry="2.2" transform="rotate(0 246 359)" fill="none" stroke="#6ea834" stroke-width="0.95" opacity="1"/>
<ellipse cx="269" cy="359.6" rx="5" ry="2.8" transform="rotate(0 269 359.6)" fill="none" stroke="#86d038" stroke-width="1.04" opacity="1"/>
<path d="M271,322 Q275,319 279,321 M272,327 Q276,324 280,326" fill="none" stroke="#6ea834" stroke-width="0.95" stroke-linecap="round" stroke-linejoin="round" opacity="1"/>
<ellipse cx="293.7" cy="256.3" rx="5" ry="3.4" transform="rotate(10 293.7 256.3)" fill="none" stroke="#d2d24e" stroke-width="1.14" opacity="1"/>
<ellipse cx="320.2" cy="262.7" rx="3.4" ry="7.0" transform="rotate(5 320.2 262.7)" fill="none" stroke="#d2d24e" stroke-width="1.14" opacity="1"/>
<ellipse cx="344.9" cy="253.6" rx="3.8" ry="4.4" transform="rotate(0 344.9 253.6)" fill="#f08a1e" opacity="1"/>
<ellipse cx="344.5" cy="252.6" rx="2.0" ry="2.4" transform="rotate(0 344.5 252.6)" fill="#f8b030" opacity="1"/>
<ellipse cx="297.4" cy="281.9" rx="5" ry="3.4" transform="rotate(-10 297.4 281.9)" fill="none" stroke="#d2d24e" stroke-width="1.14" opacity="1"/>
<ellipse cx="276.6" cy="276.4" rx="4.6" ry="5.8" transform="rotate(-20 276.6 276.4)" fill="none" stroke="#d2d24e" stroke-width="1.04" opacity="1"/>
<ellipse cx="321.2" cy="290.1" rx="4" ry="3.2" transform="rotate(20 321.2 290.1)" fill="none" stroke="#d2d24e" stroke-width="1.14" opacity="1"/>
<ellipse cx="342.2" cy="291" rx="2.4" ry="4.0" transform="rotate(0 342.2 291)" fill="none" stroke="#d2d24e" stroke-width="1.04" opacity="1"/>
<ellipse cx="309.3" cy="294.9" rx="2.5" ry="2.5" transform="rotate(0 309.3 294.9)" fill="#e86a1c" opacity="1"/>
<path d="M276,243 Q278,249 282,253" fill="none" stroke="#d2d24e" stroke-width="1.23" stroke-linecap="round" stroke-linejoin="round" opacity="1"/>
<path d="M334,232.6 Q341,234 348,232.4" fill="none" stroke="#f2d424" stroke-width="1.6" stroke-linecap="round" stroke-linejoin="round" opacity="1"/>
<path d="M351,234 Q356,238 357,246 Q359,252 357.5,262" fill="none" stroke="#d2d24e" stroke-width="1.14" stroke-linecap="round" stroke-linejoin="round" opacity="1"/>
<path d="M340,279 Q343,274 348,275.5 L358,274.5 M346,278.5 L357,279.5 M342,281 L341,286" fill="none" stroke="#d2d24e" stroke-width="1.04" stroke-linecap="round" stroke-linejoin="round" opacity="1"/>
<ellipse cx="323.9" cy="243.5" rx="1.2" ry="1.6" transform="rotate(0 323.9 243.5)" fill="#f08a1e" opacity="1"/>
<ellipse cx="334.9" cy="246.3" rx="1.8" ry="1.8" transform="rotate(0 334.9 246.3)" fill="none" stroke="#9c9c46" stroke-width="0.95" opacity="1"/>
<path d="M272,255 Q270,262 273,267" fill="none" stroke="#9c9c46" stroke-width="0.95" stroke-linecap="round" stroke-linejoin="round" opacity="1"/>
<ellipse cx="314.8" cy="313.7" rx="8.4" ry="4.8" transform="rotate(-35 314.8 313.7)" fill="none" stroke="#d2d24e" stroke-width="1.14" opacity="1"/>
<ellipse cx="344" cy="317.4" rx="3.3" ry="4.4" transform="rotate(0 344 317.4)" fill="none" stroke="#9c9c46" stroke-width="1.04" opacity="1"/>
<ellipse cx="282.8" cy="317.6" rx="5" ry="3.8" transform="rotate(20 282.8 317.6)" fill="none" stroke="#6ea834" stroke-width="1.04" opacity="1"/>
<path d="M271,327 Q276,331 281,328" fill="none" stroke="#6ea834" stroke-width="0.95" stroke-linecap="round" stroke-linejoin="round" opacity="1"/>
<ellipse cx="292.8" cy="334.8" rx="6.2" ry="3.0" transform="rotate(15 292.8 334.8)" fill="none" stroke="#d2d24e" stroke-width="1.23" opacity="1"/>
<path d="M316,340.5 Q319,332 327,332.5 Q333.5,339 332,350.5 Q329,345 323,343" fill="none" stroke="#d2d24e" stroke-width="1.14" stroke-linecap="round" stroke-linejoin="round" opacity="1"/>
<ellipse cx="352.2" cy="329.3" rx="1.8" ry="2.2" transform="rotate(0 352.2 329.3)" fill="#c02c18" opacity="1"/>
<ellipse cx="354" cy="341.1" rx="2.4" ry="2.0" transform="rotate(0 354 341.1)" fill="#c02c18" opacity="1"/>
<ellipse cx="350.4" cy="344.2" rx="3.3" ry="3.3" transform="rotate(0 350.4 344.2)" fill="none" stroke="#6ea834" stroke-width="1.04" opacity="1"/>
<ellipse cx="281" cy="350.3" rx="2.6" ry="5.4" transform="rotate(20 281 350.3)" fill="none" stroke="#a4bc3c" stroke-width="1.14" opacity="1"/>
<path d="M273,352 Q277,356 278,361 M283,357 Q286,360 287,363" fill="none" stroke="#a4bc3c" stroke-width="1.14" stroke-linecap="round" stroke-linejoin="round" opacity="1"/>
<ellipse cx="309.3" cy="351.2" rx="3.6" ry="7.0" transform="rotate(10 309.3 351.2)" fill="none" stroke="#a4bc3c" stroke-width="1.14" opacity="1"/>
<ellipse cx="334.9" cy="360" rx="3.2" ry="2.6" transform="rotate(0 334.9 360)" fill="none" stroke="#d2d24e" stroke-width="0.95" opacity="1"/>
<ellipse cx="305" cy="233" rx="4" ry="3" transform="rotate(0 305 233)" fill="none" stroke="#9c9c46" stroke-width="0.95" opacity="1"/>
</g>
<g filter="url(#bl2)">
<polygon points="250.9,265.5 257.19,266.13 255.91,263.81 261.46,260.73 260.54,259.07 254.99,262.15 253.7,259.83" fill="#fff"/>
<polygon points="210.7,300.5 217.02,300.51 215.52,298.33 221.24,294.38 220.16,292.82 214.44,296.76 212.94,294.58" fill="#fff"/>
<polygon points="196.9,345.6 193.3,350.8 195.95,350.8 195.95,356.0 197.85,356.0 197.85,350.8 200.5,350.8" fill="#fff"/>
<rect x="189.6" y="357.2" width="36.599999999999994" height="1.6" fill="#f4f4f4"/>
<polygon points="236.3,349.5 242.62,349.67 241.17,347.45 246.92,343.7 245.88,342.1 240.13,345.86 238.68,343.64" fill="#fff"/>
<polygon points="346.8,335.9 348.7,329.87 346.17,330.65 343.91,323.32 342.09,323.88 344.36,331.21 341.83,331.99" fill="#fff"/>
</g></g>
</g>
<g id="panelE">
<line x1="424.5" y1="396.0" x2="517" y2="396.0" stroke="#8e8e8e" stroke-width="1"/>
<text x="417.6" y="400.4" font-size="10.8" text-anchor="end" fill="#000">0</text>
<line x1="424.5" y1="375.41" x2="517" y2="375.41" stroke="#8e8e8e" stroke-width="1"/>
<text x="417.6" y="379.81" font-size="10.8" text-anchor="end" fill="#000">10</text>
<line x1="424.5" y1="354.81" x2="517" y2="354.81" stroke="#8e8e8e" stroke-width="1"/>
<text x="417.6" y="359.21" font-size="10.8" text-anchor="end" fill="#000">20</text>
<line x1="424.5" y1="334.22" x2="517" y2="334.22" stroke="#8e8e8e" stroke-width="1"/>
<text x="417.6" y="338.62" font-size="10.8" text-anchor="end" fill="#000">30</text>
<line x1="424.5" y1="313.62" x2="517" y2="313.62" stroke="#8e8e8e" stroke-width="1"/>
<text x="417.6" y="318.02" font-size="10.8" text-anchor="end" fill="#000">40</text>
<line x1="424.5" y1="293.03" x2="517" y2="293.03" stroke="#8e8e8e" stroke-width="1"/>
<text x="417.6" y="297.43" font-size="10.8" text-anchor="end" fill="#000">50</text>
<line x1="424.5" y1="272.44" x2="517" y2="272.44" stroke="#8e8e8e" stroke-width="1"/>
<text x="417.6" y="276.84" font-size="10.8" text-anchor="end" fill="#000">60</text>
<line x1="424.5" y1="251.84" x2="517" y2="251.84" stroke="#8e8e8e" stroke-width="1"/>
<text x="417.6" y="256.24" font-size="10.8" text-anchor="end" fill="#000">70</text>
<line x1="424.5" y1="231.25" x2="517" y2="231.25" stroke="#8e8e8e" stroke-width="1"/>
<text x="417.6" y="235.65" font-size="10.8" text-anchor="end" fill="#000">80</text>
<line x1="427" y1="231.25" x2="427" y2="396" stroke="#8e8e8e" stroke-width="1"/>
<line x1="427.0" y1="396" x2="427.0" y2="399.5" stroke="#8e8e8e" stroke-width="1"/>
<line x1="472.0" y1="396" x2="472.0" y2="399.5" stroke="#8e8e8e" stroke-width="1"/>
<line x1="517.0" y1="396" x2="517.0" y2="399.5" stroke="#8e8e8e" stroke-width="1"/>
<rect x="436.1" y="321.33" width="12.9" height="74.67" fill="#9b9b9b"/>
<path d="M436.1,396 L436.1,321.33 L449.0,321.33 L449.0,396" fill="none" stroke="#2e2e2e" stroke-width="1.1"/>
<rect x="449.6" y="287.97" width="12.6" height="108.03" fill="#1b2b9f"/>
<path d="M449.6,396 L449.6,287.97 L462.2,287.97 L462.2,396" fill="none" stroke="#10185c" stroke-width="1.1"/>
<rect x="482.3" y="318.86" width="12.9" height="77.14" fill="#9b9b9b"/>
<path d="M482.3,396 L482.3,318.86 L495.2,318.86 L495.2,396" fill="none" stroke="#2e2e2e" stroke-width="1.1"/>
<rect x="495.8" y="286.74" width="12.7" height="109.26" fill="#1b2b9f"/>
<path d="M495.8,396 L495.8,286.74 L508.5,286.74 L508.5,396" fill="none" stroke="#10185c" stroke-width="1.1"/>
<line x1="442.55" y1="317.83" x2="442.55" y2="323.83" stroke="#111" stroke-width="1"/>
<line x1="439.85" y1="317.83" x2="445.25" y2="317.83" stroke="#111" stroke-width="1"/>
<line x1="439.85" y1="323.83" x2="445.25" y2="323.83" stroke="#111" stroke-width="1"/>
<line x1="455.9" y1="282.97" x2="455.9" y2="291.97" stroke="#111" stroke-width="1"/>
<line x1="453.2" y1="282.97" x2="458.59999999999997" y2="282.97" stroke="#111" stroke-width="1"/>
<line x1="453.2" y1="291.97" x2="458.59999999999997" y2="291.97" stroke="#111" stroke-width="1"/>
<line x1="488.75" y1="316.66" x2="488.75" y2="320.06" stroke="#111" stroke-width="1"/>
<line x1="486.05" y1="316.66" x2="491.45" y2="316.66" stroke="#111" stroke-width="1"/>
<line x1="486.05" y1="320.06" x2="491.45" y2="320.06" stroke="#111" stroke-width="1"/>
<line x1="502.15" y1="284.24" x2="502.15" y2="288.24" stroke="#111" stroke-width="1"/>
<line x1="499.45" y1="284.24" x2="504.84999999999997" y2="284.24" stroke="#111" stroke-width="1"/>
<line x1="499.45" y1="288.24" x2="504.84999999999997" y2="288.24" stroke="#111" stroke-width="1"/>
<rect x="431.1" y="237.7" width="11" height="11.3" fill="#9b9b9b" stroke="#2a2a2a" stroke-width="1"/>
<rect x="431.1" y="255.3" width="11" height="11.3" fill="#1b2b9f" stroke="#10185c" stroke-width="1"/>
<text x="444.6" y="248.3" font-size="11.1" font-weight="bold" text-anchor="start" fill="#000">Vehicle</text>
<text x="444.6" y="265.9" font-size="11.1" font-weight="bold" text-anchor="start" fill="#000">SDF-1</text>
<text x="385.0" y="321.2" font-size="12.25" font-weight="bold" text-anchor="middle" transform="rotate(-90 385.0 321.2)" fill="#000">Percent of MKs associated</text>
<text x="400.6" y="321" font-size="12.2" font-weight="bold" text-anchor="middle" transform="rotate(-90 400.6 321)" fill="#000">with vasculature</text>
<text x="449.7" y="414" font-size="12.4" font-weight="bold" text-anchor="middle" fill="#000">1hr</text>
<text x="495.5" y="414" font-size="12.4" font-weight="bold" text-anchor="middle" fill="#000">24hr</text>
<text x="457.3" y="285.43" font-size="22" font-weight="bold" text-anchor="middle" fill="#000" letter-spacing="1.6">**</text>
<text x="503.3" y="285.43" font-size="22" font-weight="bold" text-anchor="middle" fill="#000" letter-spacing="1.6">**</text>
</g>
<g id="panelF">
<line x1="52.0" y1="568.2" x2="145.5" y2="568.2" stroke="#8e8e8e" stroke-width="1"/>
<text x="46.6" y="572.6" font-size="10.8" text-anchor="end" fill="#000">0</text>
<line x1="52.0" y1="549.09" x2="145.5" y2="549.09" stroke="#8e8e8e" stroke-width="1"/>
<text x="46.6" y="553.49" font-size="10.8" text-anchor="end" fill="#000">20</text>
<line x1="52.0" y1="529.98" x2="145.5" y2="529.98" stroke="#8e8e8e" stroke-width="1"/>
<text x="46.6" y="534.38" font-size="10.8" text-anchor="end" fill="#000">40</text>
<line x1="52.0" y1="510.87" x2="145.5" y2="510.87" stroke="#8e8e8e" stroke-width="1"/>
<text x="46.6" y="515.27" font-size="10.8" text-anchor="end" fill="#000">60</text>
<line x1="52.0" y1="491.76" x2="145.5" y2="491.76" stroke="#8e8e8e" stroke-width="1"/>
<text x="46.6" y="496.16" font-size="10.8" text-anchor="end" fill="#000">80</text>
<line x1="52.0" y1="472.64" x2="145.5" y2="472.64" stroke="#8e8e8e" stroke-width="1"/>
<text x="46.6" y="477.04" font-size="10.8" text-anchor="end" fill="#000">100</text>
<line x1="52.0" y1="453.53" x2="145.5" y2="453.53" stroke="#8e8e8e" stroke-width="1"/>
<text x="46.6" y="457.93" font-size="10.8" text-anchor="end" fill="#000">120</text>
<line x1="52.0" y1="434.42" x2="145.5" y2="434.42" stroke="#8e8e8e" stroke-width="1"/>
<text x="46.6" y="438.82" font-size="10.8" text-anchor="end" fill="#000">140</text>
<line x1="52.0" y1="415.31" x2="145.5" y2="415.31" stroke="#8e8e8e" stroke-width="1"/>
<text x="46.6" y="419.71" font-size="10.8" text-anchor="end" fill="#000">160</text>
<line x1="52.0" y1="396.2" x2="145.5" y2="396.2" stroke="#8e8e8e" stroke-width="1"/>
<text x="46.6" y="400.6" font-size="10.8" text-anchor="end" fill="#000">180</text>
<line x1="54.5" y1="396.2" x2="54.5" y2="568.2" stroke="#8e8e8e" stroke-width="1"/>
<line x1="54.5" y1="568.2" x2="54.5" y2="571.7" stroke="#8e8e8e" stroke-width="1"/>
<line x1="100.0" y1="568.2" x2="100.0" y2="571.7" stroke="#8e8e8e" stroke-width="1"/>
<line x1="145.5" y1="568.2" x2="145.5" y2="571.7" stroke="#8e8e8e" stroke-width="1"/>
<rect x="64.8" y="473.14" width="12.4" height="95.06" fill="#9b9b9b"/>
<path d="M64.8,568.2 L64.8,473.14 L77.2,473.14 L77.2,568.2" fill="none" stroke="#2e2e2e" stroke-width="1.1"/>
<rect x="77.8" y="449.26" width="13.15" height="118.94" fill="#1b2b9f"/>
<path d="M77.8,568.2 L77.8,449.26 L90.95,449.26 L90.95,568.2" fill="none" stroke="#10185c" stroke-width="1.1"/>
<rect x="110.3" y="473.14" width="12.4" height="95.06" fill="#9b9b9b"/>
<path d="M110.3,568.2 L110.3,473.14 L122.7,473.14 L122.7,568.2" fill="none" stroke="#2e2e2e" stroke-width="1.1"/>
<rect x="123.3" y="432.53" width="12.65" height="135.67" fill="#1b2b9f"/>
<path d="M123.3,568.2 L123.3,432.53 L135.95,432.53 L135.95,568.2" fill="none" stroke="#10185c" stroke-width="1.1"/>
<line x1="71.0" y1="468.89" x2="71.0" y2="476.39" stroke="#111" stroke-width="1"/>
<line x1="68.3" y1="468.89" x2="73.7" y2="468.89" stroke="#111" stroke-width="1"/>
<line x1="68.3" y1="476.39" x2="73.7" y2="476.39" stroke="#111" stroke-width="1"/>
<line x1="84.375" y1="439.36" x2="84.375" y2="458.16" stroke="#111" stroke-width="1"/>
<line x1="81.675" y1="439.36" x2="87.075" y2="439.36" stroke="#111" stroke-width="1"/>
<line x1="81.675" y1="458.16" x2="87.075" y2="458.16" stroke="#111" stroke-width="1"/>
<line x1="116.5" y1="460.14" x2="116.5" y2="485.14" stroke="#111" stroke-width="1"/>
<line x1="113.8" y1="460.14" x2="119.2" y2="460.14" stroke="#111" stroke-width="1"/>
<line x1="113.8" y1="485.14" x2="119.2" y2="485.14" stroke="#111" stroke-width="1"/>
<line x1="129.625" y1="426.03" x2="129.625" y2="438.03" stroke="#111" stroke-width="1"/>
<line x1="126.925" y1="426.03" x2="132.325" y2="426.03" stroke="#111" stroke-width="1"/>
<line x1="126.925" y1="438.03" x2="132.325" y2="438.03" stroke="#111" stroke-width="1"/>
<rect x="58.5" y="400.9" width="11" height="11.3" fill="#9b9b9b" stroke="#2a2a2a" stroke-width="1"/>
<rect x="58.5" y="417.4" width="11" height="11.3" fill="#1b2b9f" stroke="#10185c" stroke-width="1"/>
<text x="71.8" y="411.0" font-size="11.1" font-weight="bold" text-anchor="start" fill="#000">Vehicle</text>
<text x="71.8" y="425.7" font-size="11.1" font-weight="bold" text-anchor="start" fill="#000">SDF-1</text>
<text x="11.5" y="480.5" font-size="12.3" font-weight="bold" text-anchor="middle" transform="rotate(-90 11.5 480.5)" fill="#000" letter-spacing="0.5">MK CXCR4 MFI/A</text>
<text x="23.5" y="485" font-size="12.2" font-weight="bold" text-anchor="middle" transform="rotate(-90 23.5 485)" fill="#000">Percent vehicle control</text>
<text x="78" y="587.4" font-size="12.4" font-weight="bold" text-anchor="middle" fill="#000">1hr</text>
<text x="123" y="587.4" font-size="12.4" font-weight="bold" text-anchor="middle" fill="#000">24hr</text>
<text x="84.25" y="443.43" font-size="22" font-weight="bold" text-anchor="middle" fill="#000">*</text>
<text x="129.2" y="430.53" font-size="22" font-weight="bold" text-anchor="middle" fill="#000">*</text>
</g>
<g id="panelG">
<line x1="211.5" y1="567.0" x2="300" y2="567.0" stroke="#8e8e8e" stroke-width="1"/>
<text x="206" y="571.4" font-size="10.8" text-anchor="end" fill="#000">0</text>
<line x1="211.5" y1="542.64" x2="300" y2="542.64" stroke="#8e8e8e" stroke-width="1"/>
<text x="206" y="547.04" font-size="10.8" text-anchor="end" fill="#000">20</text>
<line x1="211.5" y1="518.29" x2="300" y2="518.29" stroke="#8e8e8e" stroke-width="1"/>
<text x="206" y="522.69" font-size="10.8" text-anchor="end" fill="#000">40</text>
<line x1="211.5" y1="493.93" x2="300" y2="493.93" stroke="#8e8e8e" stroke-width="1"/>
<text x="206" y="498.33" font-size="10.8" text-anchor="end" fill="#000">60</text>
<line x1="211.5" y1="469.57" x2="300" y2="469.57" stroke="#8e8e8e" stroke-width="1"/>
<text x="206" y="473.97" font-size="10.8" text-anchor="end" fill="#000">80</text>
<line x1="211.5" y1="445.21" x2="300" y2="445.21" stroke="#8e8e8e" stroke-width="1"/>
<text x="206" y="449.61" font-size="10.8" text-anchor="end" fill="#000">100</text>
<line x1="211.5" y1="420.86" x2="300" y2="420.86" stroke="#8e8e8e" stroke-width="1"/>
<text x="206" y="425.26" font-size="10.8" text-anchor="end" fill="#000">120</text>
<line x1="211.5" y1="396.5" x2="300" y2="396.5" stroke="#8e8e8e" stroke-width="1"/>
<text x="206" y="400.9" font-size="10.8" text-anchor="end" fill="#000">140</text>
<line x1="214" y1="396.5" x2="214" y2="567" stroke="#8e8e8e" stroke-width="1"/>
<line x1="214.0" y1="567" x2="214.0" y2="570.5" stroke="#8e8e8e" stroke-width="1"/>
<line x1="257.0" y1="567" x2="257.0" y2="570.5" stroke="#8e8e8e" stroke-width="1"/>
<line x1="300.0" y1="567" x2="300.0" y2="570.5" stroke="#8e8e8e" stroke-width="1"/>
<rect x="227.8" y="445.71" width="16.7" height="121.29" fill="#9b9b9b"/>
<path d="M227.8,567 L227.8,445.71 L244.5,445.71 L244.5,567" fill="none" stroke="#2e2e2e" stroke-width="1.1"/>
<rect x="269.9" y="416.73" width="17.0" height="150.27" fill="#1b2b9f"/>
<path d="M269.9,567 L269.9,416.73 L286.9,416.73 L286.9,567" fill="none" stroke="#10185c" stroke-width="1.1"/>
<line x1="236.15" y1="439.21" x2="236.15" y2="451.21" stroke="#111" stroke-width="1"/>
<line x1="233.45000000000002" y1="439.21" x2="238.85" y2="439.21" stroke="#111" stroke-width="1"/>
<line x1="233.45000000000002" y1="451.21" x2="238.85" y2="451.21" stroke="#111" stroke-width="1"/>
<line x1="278.4" y1="408.23" x2="278.4" y2="424.23" stroke="#111" stroke-width="1"/>
<line x1="275.7" y1="408.23" x2="281.09999999999997" y2="408.23" stroke="#111" stroke-width="1"/>
<line x1="275.7" y1="424.23" x2="281.09999999999997" y2="424.23" stroke="#111" stroke-width="1"/>
<text x="172.2" y="484.5" font-size="12.3" font-weight="bold" text-anchor="middle" transform="rotate(-90 172.2 484.5)" fill="#000">MK CXCR4 MFI/A</text>
<text x="185.6" y="483.75" font-size="12.15" font-weight="bold" text-anchor="middle" transform="rotate(-90 185.6 483.75)" fill="#000">Percent vehicle control</text>
<text x="236" y="585.1" font-size="12.4" font-weight="bold" text-anchor="middle" fill="#000">Vehicle</text>
<text x="278.6" y="585.1" font-size="12.4" font-weight="bold" text-anchor="middle" fill="#000">1hr</text>
<text x="278.0" y="599.6" font-size="12.4" font-weight="bold" text-anchor="middle" fill="#000">SDF-1</text>
<text x="278.3" y="412.83" font-size="22" font-weight="bold" text-anchor="middle" fill="#000">*</text>
</g>
</g>
</svg>
</body></html>
